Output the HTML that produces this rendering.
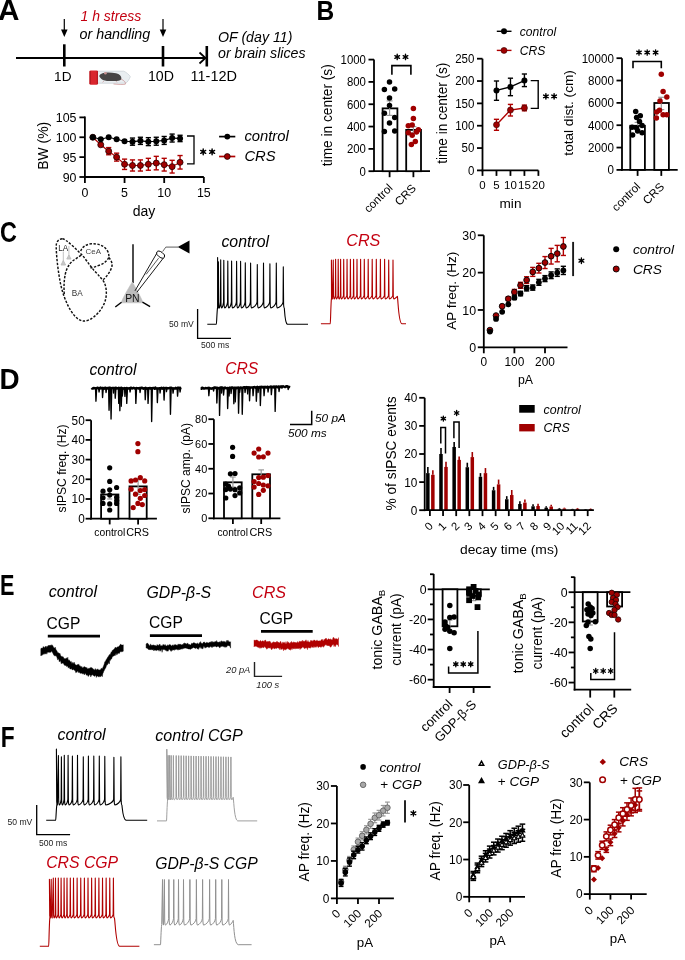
<!DOCTYPE html>
<html><head><meta charset="utf-8"><style>
html,body{margin:0;padding:0;background:#fff;overflow:hidden;}
svg{display:block;font-family:"Liberation Sans", sans-serif;will-change:transform;}
</style></head><body>
<svg width="685" height="960" viewBox="0 0 685 960">
<rect width="685" height="960" fill="#fff"/>
<text x="0" y="0" font-size="29.56" font-weight="bold" transform="translate(-2.09 20) scale(1.005 1)">A</text>
<line x1="16" y1="58" x2="206" y2="58" stroke="#000" stroke-width="1.8"/>
<polyline points="199.5,52.5 205.5,58 199.5,63.5" stroke="#000" stroke-width="1.7" fill="none"/>
<line x1="64.3" y1="44.3" x2="64.3" y2="66.5" stroke="#000" stroke-width="2.6"/>
<line x1="163" y1="46" x2="163" y2="66.5" stroke="#000" stroke-width="2.6"/>
<line x1="206.8" y1="46" x2="206.8" y2="66.5" stroke="#000" stroke-width="2.6"/>
<line x1="64.3" y1="19" x2="64.3" y2="31" stroke="#000" stroke-width="1.2"/>
<polygon points="61,29.5 67.6,29.5 64.3,37" fill="#000"/>
<line x1="163" y1="19" x2="163" y2="31" stroke="#000" stroke-width="1.2"/>
<polygon points="159.7,29.5 166.3,29.5 163,37" fill="#000"/>
<text x="62.8" y="81" font-size="13.6" text-anchor="middle" fill="#000">1D</text>
<text x="160.9" y="81" font-size="14.2" text-anchor="middle" fill="#000">10D</text>
<text x="213.8" y="81" font-size="14.5" text-anchor="middle" fill="#000">11-12D</text>
<text x="80.5" y="21" font-size="14" text-anchor="start" fill="#c40010" font-style="italic">1 h stress</text>
<text x="79.5" y="38.5" font-size="14.3" text-anchor="start" fill="#000" font-style="italic">or handling</text>
<text x="218" y="42" font-size="14.2" text-anchor="start" fill="#000" font-style="italic">OF (day 11)</text>
<text x="218" y="58" font-size="14.2" text-anchor="start" fill="#000" font-style="italic">or brain slices</text>
<g>
<path d="M97,71.2 L123.7,71.2 C126,72 129.5,75 130.3,76.7 C129.5,79 127.5,82 125.9,83.2 L97,83.2 Z" fill="#e9eef1" stroke="#c5cdd2" stroke-width="0.7"/>
<path d="M99.3,75.8 C100,74 102.5,72.8 105,72.7 C108,72.3 112,72.4 116,73.2 C119.5,74 121.5,76 121.4,78.2 C121.3,80.2 119.5,80.9 116.5,80.9 L107,80.9 C104,80.9 101.5,79.5 100.3,77.8 C99.6,77.2 99.2,76.5 99.3,75.8 Z" fill="#474444"/>
<circle cx="105.4" cy="73.3" r="1.3" fill="#c98f8f"/>
<path d="M104,81 L102.5,82.3 M116,81 L117,82.4" stroke="#c98f8f" stroke-width="0.6" fill="none"/>
<path d="M121,79 C124,80.5 126,82.5 125.3,84.2 C123,84.8 118,84.4 113.5,84" fill="none" stroke="#c07a7a" stroke-width="0.6"/>
<rect x="89.4" y="70.5" width="8.6" height="14.2" rx="1.4" fill="#d9262e"/>
<rect x="89.6" y="71" width="1.2" height="13.2" fill="#b01820"/>
<rect x="96.8" y="71" width="1" height="13.2" fill="#b01820"/>
</g>
<line x1="84.9" y1="116.6" x2="84.9" y2="177" stroke="#000" stroke-width="1.8"/>
<line x1="79.4" y1="117.39" x2="84.9" y2="117.39" stroke="#000" stroke-width="1.8"/>
<text x="0" y="0" font-size="12.4" text-anchor="end" fill="#000" transform="translate(76.5 121.92) scale(1 1.030)">105</text>
<line x1="79.4" y1="137.26" x2="84.9" y2="137.26" stroke="#000" stroke-width="1.8"/>
<text x="0" y="0" font-size="12.4" text-anchor="end" fill="#000" transform="translate(76.5 141.79) scale(1 1.030)">100</text>
<line x1="79.4" y1="157.13" x2="84.9" y2="157.13" stroke="#000" stroke-width="1.8"/>
<text x="0" y="0" font-size="12.4" text-anchor="end" fill="#000" transform="translate(76.5 161.66) scale(1 1.030)">95</text>
<line x1="79.4" y1="177" x2="84.9" y2="177" stroke="#000" stroke-width="1.8"/>
<text x="0" y="0" font-size="12.4" text-anchor="end" fill="#000" transform="translate(76.5 181.53) scale(1 1.030)">90</text>
<line x1="84.9" y1="177" x2="203.85" y2="177" stroke="#000" stroke-width="1.8"/>
<line x1="84.9" y1="177" x2="84.9" y2="183" stroke="#000" stroke-width="1.8"/>
<text x="0" y="0" font-size="12.4" text-anchor="middle" fill="#000" transform="translate(84.9 197.1) scale(1 1.040)">0</text>
<line x1="124.55" y1="177" x2="124.55" y2="183" stroke="#000" stroke-width="1.8"/>
<text x="0" y="0" font-size="12.4" text-anchor="middle" fill="#000" transform="translate(124.55 197.1) scale(1 1.040)">5</text>
<line x1="164.2" y1="177" x2="164.2" y2="183" stroke="#000" stroke-width="1.8"/>
<text x="0" y="0" font-size="12.4" text-anchor="middle" fill="#000" transform="translate(164.2 197.1) scale(1 1.040)">10</text>
<line x1="203.85" y1="177" x2="203.85" y2="183" stroke="#000" stroke-width="1.8"/>
<text x="0" y="0" font-size="12.4" text-anchor="middle" fill="#000" transform="translate(203.85 197.1) scale(1 1.040)">15</text>
<text x="144" y="215.5" font-size="14" text-anchor="middle" fill="#000">day</text>
<text x="48.5" y="145.8" font-size="14.3" text-anchor="middle" fill="#000" transform="rotate(-90 48.5 145.8)" textLength="48" lengthAdjust="spacingAndGlyphs">BW (%)</text>
<polyline points="92.83,137.26 100.76,144.81 108.69,151.17 116.62,157.13 124.55,164.28 132.48,165.48 140.41,165.48 148.34,164.28 156.27,163.09 164.2,164.68 172.13,166.67 180.06,162.3" stroke="#b00000" stroke-width="1.2" fill="none"/>
<line x1="108.69" y1="147.59" x2="108.69" y2="154.75" stroke="#b00000" stroke-width="1.4"/>
<line x1="106.09" y1="147.59" x2="111.29" y2="147.59" stroke="#b00000" stroke-width="1.4"/>
<line x1="106.09" y1="154.75" x2="111.29" y2="154.75" stroke="#b00000" stroke-width="1.4"/>
<line x1="116.62" y1="153.16" x2="116.62" y2="161.1" stroke="#b00000" stroke-width="1.4"/>
<line x1="114.02" y1="153.16" x2="119.22" y2="153.16" stroke="#b00000" stroke-width="1.4"/>
<line x1="114.02" y1="161.1" x2="119.22" y2="161.1" stroke="#b00000" stroke-width="1.4"/>
<line x1="124.55" y1="159.12" x2="124.55" y2="169.45" stroke="#b00000" stroke-width="1.4"/>
<line x1="121.95" y1="159.12" x2="127.15" y2="159.12" stroke="#b00000" stroke-width="1.4"/>
<line x1="121.95" y1="169.45" x2="127.15" y2="169.45" stroke="#b00000" stroke-width="1.4"/>
<line x1="132.48" y1="159.91" x2="132.48" y2="171.04" stroke="#b00000" stroke-width="1.4"/>
<line x1="129.88" y1="159.91" x2="135.08" y2="159.91" stroke="#b00000" stroke-width="1.4"/>
<line x1="129.88" y1="171.04" x2="135.08" y2="171.04" stroke="#b00000" stroke-width="1.4"/>
<line x1="140.41" y1="159.91" x2="140.41" y2="171.04" stroke="#b00000" stroke-width="1.4"/>
<line x1="137.81" y1="159.91" x2="143.01" y2="159.91" stroke="#b00000" stroke-width="1.4"/>
<line x1="137.81" y1="171.04" x2="143.01" y2="171.04" stroke="#b00000" stroke-width="1.4"/>
<line x1="148.34" y1="158.32" x2="148.34" y2="170.24" stroke="#b00000" stroke-width="1.4"/>
<line x1="145.74" y1="158.32" x2="150.94" y2="158.32" stroke="#b00000" stroke-width="1.4"/>
<line x1="145.74" y1="170.24" x2="150.94" y2="170.24" stroke="#b00000" stroke-width="1.4"/>
<line x1="156.27" y1="156.34" x2="156.27" y2="169.85" stroke="#b00000" stroke-width="1.4"/>
<line x1="153.67" y1="156.34" x2="158.87" y2="156.34" stroke="#b00000" stroke-width="1.4"/>
<line x1="153.67" y1="169.85" x2="158.87" y2="169.85" stroke="#b00000" stroke-width="1.4"/>
<line x1="164.2" y1="158.32" x2="164.2" y2="171.04" stroke="#b00000" stroke-width="1.4"/>
<line x1="161.6" y1="158.32" x2="166.8" y2="158.32" stroke="#b00000" stroke-width="1.4"/>
<line x1="161.6" y1="171.04" x2="166.8" y2="171.04" stroke="#b00000" stroke-width="1.4"/>
<line x1="172.13" y1="160.31" x2="172.13" y2="173.03" stroke="#b00000" stroke-width="1.4"/>
<line x1="169.53" y1="160.31" x2="174.73" y2="160.31" stroke="#b00000" stroke-width="1.4"/>
<line x1="169.53" y1="173.03" x2="174.73" y2="173.03" stroke="#b00000" stroke-width="1.4"/>
<line x1="180.06" y1="155.54" x2="180.06" y2="169.05" stroke="#b00000" stroke-width="1.4"/>
<line x1="177.46" y1="155.54" x2="182.66" y2="155.54" stroke="#b00000" stroke-width="1.4"/>
<line x1="177.46" y1="169.05" x2="182.66" y2="169.05" stroke="#b00000" stroke-width="1.4"/>
<circle cx="92.83" cy="137.26" r="3" fill="#a00000" stroke="#200" stroke-width="0.8"/>
<circle cx="100.76" cy="144.81" r="3" fill="#a00000" stroke="#200" stroke-width="0.8"/>
<circle cx="108.69" cy="151.17" r="3" fill="#a00000" stroke="#200" stroke-width="0.8"/>
<circle cx="116.62" cy="157.13" r="3" fill="#a00000" stroke="#200" stroke-width="0.8"/>
<circle cx="124.55" cy="164.28" r="3" fill="#a00000" stroke="#200" stroke-width="0.8"/>
<circle cx="132.48" cy="165.48" r="3" fill="#a00000" stroke="#200" stroke-width="0.8"/>
<circle cx="140.41" cy="165.48" r="3" fill="#a00000" stroke="#200" stroke-width="0.8"/>
<circle cx="148.34" cy="164.28" r="3" fill="#a00000" stroke="#200" stroke-width="0.8"/>
<circle cx="156.27" cy="163.09" r="3" fill="#a00000" stroke="#200" stroke-width="0.8"/>
<circle cx="164.2" cy="164.68" r="3" fill="#a00000" stroke="#200" stroke-width="0.8"/>
<circle cx="172.13" cy="166.67" r="3" fill="#a00000" stroke="#200" stroke-width="0.8"/>
<circle cx="180.06" cy="162.3" r="3" fill="#a00000" stroke="#200" stroke-width="0.8"/>
<polyline points="92.83,137.26 100.76,139.25 108.69,137.26 116.62,139.25 124.55,141.23 132.48,141.63 140.41,140.84 148.34,141.63 156.27,141.23 164.2,140.44 172.13,138.05 180.06,138.45" stroke="#000" stroke-width="1.2" fill="none"/>
<line x1="132.48" y1="138.05" x2="132.48" y2="145.21" stroke="#000" stroke-width="1.4"/>
<line x1="129.88" y1="138.05" x2="135.08" y2="138.05" stroke="#000" stroke-width="1.4"/>
<line x1="129.88" y1="145.21" x2="135.08" y2="145.21" stroke="#000" stroke-width="1.4"/>
<line x1="140.41" y1="137.26" x2="140.41" y2="144.41" stroke="#000" stroke-width="1.4"/>
<line x1="137.81" y1="137.26" x2="143.01" y2="137.26" stroke="#000" stroke-width="1.4"/>
<line x1="137.81" y1="144.41" x2="143.01" y2="144.41" stroke="#000" stroke-width="1.4"/>
<line x1="148.34" y1="137.66" x2="148.34" y2="145.61" stroke="#000" stroke-width="1.4"/>
<line x1="145.74" y1="137.66" x2="150.94" y2="137.66" stroke="#000" stroke-width="1.4"/>
<line x1="145.74" y1="145.61" x2="150.94" y2="145.61" stroke="#000" stroke-width="1.4"/>
<line x1="156.27" y1="137.26" x2="156.27" y2="145.21" stroke="#000" stroke-width="1.4"/>
<line x1="153.67" y1="137.26" x2="158.87" y2="137.26" stroke="#000" stroke-width="1.4"/>
<line x1="153.67" y1="145.21" x2="158.87" y2="145.21" stroke="#000" stroke-width="1.4"/>
<line x1="164.2" y1="136.47" x2="164.2" y2="144.41" stroke="#000" stroke-width="1.4"/>
<line x1="161.6" y1="136.47" x2="166.8" y2="136.47" stroke="#000" stroke-width="1.4"/>
<line x1="161.6" y1="144.41" x2="166.8" y2="144.41" stroke="#000" stroke-width="1.4"/>
<line x1="172.13" y1="134.08" x2="172.13" y2="142.03" stroke="#000" stroke-width="1.4"/>
<line x1="169.53" y1="134.08" x2="174.73" y2="134.08" stroke="#000" stroke-width="1.4"/>
<line x1="169.53" y1="142.03" x2="174.73" y2="142.03" stroke="#000" stroke-width="1.4"/>
<line x1="180.06" y1="135.27" x2="180.06" y2="141.63" stroke="#000" stroke-width="1.4"/>
<line x1="177.46" y1="135.27" x2="182.66" y2="135.27" stroke="#000" stroke-width="1.4"/>
<line x1="177.46" y1="141.63" x2="182.66" y2="141.63" stroke="#000" stroke-width="1.4"/>
<circle cx="92.83" cy="137.26" r="3" fill="#000" stroke="none" stroke-width="0.8"/>
<circle cx="100.76" cy="139.25" r="3" fill="#000" stroke="none" stroke-width="0.8"/>
<circle cx="108.69" cy="137.26" r="3" fill="#000" stroke="none" stroke-width="0.8"/>
<circle cx="116.62" cy="139.25" r="3" fill="#000" stroke="none" stroke-width="0.8"/>
<circle cx="124.55" cy="141.23" r="3" fill="#000" stroke="none" stroke-width="0.8"/>
<circle cx="132.48" cy="141.63" r="3" fill="#000" stroke="none" stroke-width="0.8"/>
<circle cx="140.41" cy="140.84" r="3" fill="#000" stroke="none" stroke-width="0.8"/>
<circle cx="148.34" cy="141.63" r="3" fill="#000" stroke="none" stroke-width="0.8"/>
<circle cx="156.27" cy="141.23" r="3" fill="#000" stroke="none" stroke-width="0.8"/>
<circle cx="164.2" cy="140.44" r="3" fill="#000" stroke="none" stroke-width="0.8"/>
<circle cx="172.13" cy="138.05" r="3" fill="#000" stroke="none" stroke-width="0.8"/>
<circle cx="180.06" cy="138.45" r="3" fill="#000" stroke="none" stroke-width="0.8"/>
<polyline points="187,136 194,136 194,163.8 187,163.8" stroke="#000" stroke-width="1.3" fill="none"/>
<path d="M203.2,149.05 L203.2,154.75 M200.73,150.47 L205.67,153.33 M200.73,153.33 L205.67,150.47" stroke="#000" stroke-width="1.45" stroke-linecap="round" fill="none"/>
<circle cx="203.2" cy="151.9" r="1.28" fill="#000" stroke="none" stroke-width="0.8"/>
<path d="M212.1,149.05 L212.1,154.75 M209.63,150.47 L214.57,153.33 M209.63,153.33 L214.57,150.47" stroke="#000" stroke-width="1.45" stroke-linecap="round" fill="none"/>
<circle cx="212.1" cy="151.9" r="1.28" fill="#000" stroke="none" stroke-width="0.8"/>
<line x1="219.1" y1="136.6" x2="235.3" y2="136.6" stroke="#000" stroke-width="1.7"/>
<circle cx="227.3" cy="136.6" r="2.9" fill="#000" stroke="none" stroke-width="0.8"/>
<text x="244.4" y="141.4" font-size="14.8" text-anchor="start" fill="#000" font-style="italic">control</text>
<line x1="219.1" y1="156.5" x2="235.3" y2="156.5" stroke="#b00000" stroke-width="1.7"/>
<circle cx="227.3" cy="156.5" r="2.9" fill="#a00000" stroke="#200" stroke-width="0.8"/>
<text x="244.4" y="161.4" font-size="14.8" text-anchor="start" fill="#000" font-style="italic">CRS</text>
<text x="0" y="0" font-size="28.53" font-weight="bold" transform="translate(316.39 19.99) scale(0.859 1)">B</text>
<line x1="374" y1="59.6" x2="374" y2="172.1" stroke="#000" stroke-width="1.8"/>
<line x1="368.5" y1="59.6" x2="374" y2="59.6" stroke="#000" stroke-width="1.8"/>
<text x="0" y="0" font-size="11.4" text-anchor="end" fill="#000" transform="translate(365.9 63.99) scale(1 1.085)">1000</text>
<line x1="368.5" y1="81.92" x2="374" y2="81.92" stroke="#000" stroke-width="1.8"/>
<text x="0" y="0" font-size="11.4" text-anchor="end" fill="#000" transform="translate(365.9 86.31) scale(1 1.085)">800</text>
<line x1="368.5" y1="104.24" x2="374" y2="104.24" stroke="#000" stroke-width="1.8"/>
<text x="0" y="0" font-size="11.4" text-anchor="end" fill="#000" transform="translate(365.9 108.63) scale(1 1.085)">600</text>
<line x1="368.5" y1="126.56" x2="374" y2="126.56" stroke="#000" stroke-width="1.8"/>
<text x="0" y="0" font-size="11.4" text-anchor="end" fill="#000" transform="translate(365.9 130.95) scale(1 1.085)">400</text>
<line x1="368.5" y1="148.88" x2="374" y2="148.88" stroke="#000" stroke-width="1.8"/>
<text x="0" y="0" font-size="11.4" text-anchor="end" fill="#000" transform="translate(365.9 153.27) scale(1 1.085)">200</text>
<line x1="368.5" y1="171.2" x2="374" y2="171.2" stroke="#000" stroke-width="1.8"/>
<text x="0" y="0" font-size="11.4" text-anchor="end" fill="#000" transform="translate(365.9 175.59) scale(1 1.085)">0</text>
<line x1="373.1" y1="171.2" x2="430" y2="171.2" stroke="#000" stroke-width="1.8"/>
<line x1="389.6" y1="171.2" x2="389.6" y2="177.2" stroke="#000" stroke-width="1.8"/>
<line x1="413.4" y1="171.2" x2="413.4" y2="177.2" stroke="#000" stroke-width="1.8"/>
<rect x="382.6" y="108.37" width="14.8" height="62.83" fill="#fff" stroke="#000" stroke-width="1.8"/>
<rect x="406.2" y="129.91" width="14.8" height="41.29" fill="#fff" stroke="#000" stroke-width="1.8"/>
<line x1="389.6" y1="100.89" x2="389.6" y2="115.4" stroke="#999" stroke-width="1.2"/>
<line x1="386.6" y1="100.89" x2="392.6" y2="100.89" stroke="#999" stroke-width="1.2"/>
<line x1="386.6" y1="115.4" x2="392.6" y2="115.4" stroke="#999" stroke-width="1.2"/>
<line x1="413.4" y1="126.56" x2="413.4" y2="132.7" stroke="#999" stroke-width="1.2"/>
<line x1="410.4" y1="126.56" x2="416.4" y2="126.56" stroke="#999" stroke-width="1.2"/>
<line x1="410.4" y1="132.7" x2="416.4" y2="132.7" stroke="#999" stroke-width="1.2"/>
<circle cx="389.5" cy="82" r="2.75" fill="#000" stroke="none" stroke-width="0.8"/>
<circle cx="384.4" cy="89.4" r="2.75" fill="#000" stroke="none" stroke-width="0.8"/>
<circle cx="394.7" cy="89" r="2.75" fill="#000" stroke="none" stroke-width="0.8"/>
<circle cx="389.5" cy="98.1" r="2.75" fill="#000" stroke="none" stroke-width="0.8"/>
<circle cx="389.5" cy="105.5" r="2.75" fill="#000" stroke="none" stroke-width="0.8"/>
<circle cx="384.4" cy="113.3" r="2.75" fill="#000" stroke="none" stroke-width="0.8"/>
<circle cx="394.7" cy="117.5" r="2.75" fill="#000" stroke="none" stroke-width="0.8"/>
<circle cx="389.5" cy="123.1" r="2.75" fill="#000" stroke="none" stroke-width="0.8"/>
<circle cx="384.4" cy="131.6" r="2.75" fill="#000" stroke="none" stroke-width="0.8"/>
<circle cx="394.7" cy="130.9" r="2.75" fill="#000" stroke="none" stroke-width="0.8"/>
<circle cx="413.4" cy="108.6" r="2.75" fill="#a00000" stroke="none" stroke-width="0.8"/>
<circle cx="413.4" cy="118.4" r="2.75" fill="#a00000" stroke="none" stroke-width="0.8"/>
<circle cx="408.3" cy="125.8" r="2.75" fill="#a00000" stroke="none" stroke-width="0.8"/>
<circle cx="412.2" cy="125" r="2.75" fill="#a00000" stroke="none" stroke-width="0.8"/>
<circle cx="418.4" cy="129.7" r="2.75" fill="#a00000" stroke="none" stroke-width="0.8"/>
<circle cx="408.3" cy="132.8" r="2.75" fill="#a00000" stroke="none" stroke-width="0.8"/>
<circle cx="412.2" cy="135.2" r="2.75" fill="#a00000" stroke="none" stroke-width="0.8"/>
<circle cx="415.3" cy="141.4" r="2.75" fill="#a00000" stroke="none" stroke-width="0.8"/>
<circle cx="411.4" cy="144.5" r="2.75" fill="#a00000" stroke="none" stroke-width="0.8"/>
<circle cx="416.5" cy="132" r="2.75" fill="#a00000" stroke="none" stroke-width="0.8"/>
<polyline points="391.9,74.7 391.9,65.6 410.9,65.6 410.9,74.7" stroke="#000" stroke-width="1.6" fill="none"/>
<path d="M397.2,54.25 L397.2,59.65 M394.86,55.6 L399.54,58.3 M394.86,58.3 L399.54,55.6" stroke="#000" stroke-width="1.35" stroke-linecap="round" fill="none"/>
<circle cx="397.2" cy="56.95" r="1.22" fill="#000" stroke="none" stroke-width="0.8"/>
<path d="M405.5,54.25 L405.5,59.65 M403.16,55.6 L407.84,58.3 M403.16,58.3 L407.84,55.6" stroke="#000" stroke-width="1.35" stroke-linecap="round" fill="none"/>
<circle cx="405.5" cy="56.95" r="1.22" fill="#000" stroke="none" stroke-width="0.8"/>
<text x="331.7" y="115.2" font-size="14.2" text-anchor="middle" fill="#000" transform="rotate(-90 331.7 115.2)" textLength="102" lengthAdjust="spacingAndGlyphs">time in center (s)</text>
<text x="393.3" y="188.7" font-size="11.6" text-anchor="end" fill="#000" transform="rotate(-45 393.3 188.7)">control</text>
<text x="416.8" y="189" font-size="11.6" text-anchor="end" fill="#000" transform="rotate(-45 416.8 189)">CRS</text>
<line x1="482.5" y1="58.7" x2="482.5" y2="171.3" stroke="#000" stroke-width="1.8"/>
<line x1="477" y1="58.7" x2="482.5" y2="58.7" stroke="#000" stroke-width="1.8"/>
<text x="0" y="0" font-size="11.5" text-anchor="end" fill="#000" transform="translate(474.4 63.11) scale(1 1.080)">250</text>
<line x1="477" y1="81.04" x2="482.5" y2="81.04" stroke="#000" stroke-width="1.8"/>
<text x="0" y="0" font-size="11.5" text-anchor="end" fill="#000" transform="translate(474.4 85.45) scale(1 1.080)">200</text>
<line x1="477" y1="103.38" x2="482.5" y2="103.38" stroke="#000" stroke-width="1.8"/>
<text x="0" y="0" font-size="11.5" text-anchor="end" fill="#000" transform="translate(474.4 107.79) scale(1 1.080)">150</text>
<line x1="477" y1="125.72" x2="482.5" y2="125.72" stroke="#000" stroke-width="1.8"/>
<text x="0" y="0" font-size="11.5" text-anchor="end" fill="#000" transform="translate(474.4 130.13) scale(1 1.080)">100</text>
<line x1="477" y1="148.06" x2="482.5" y2="148.06" stroke="#000" stroke-width="1.8"/>
<text x="0" y="0" font-size="11.5" text-anchor="end" fill="#000" transform="translate(474.4 152.47) scale(1 1.080)">50</text>
<line x1="477" y1="170.4" x2="482.5" y2="170.4" stroke="#000" stroke-width="1.8"/>
<text x="0" y="0" font-size="11.5" text-anchor="end" fill="#000" transform="translate(474.4 174.81) scale(1 1.080)">0</text>
<line x1="481.6" y1="170.4" x2="538.4" y2="170.4" stroke="#000" stroke-width="1.8"/>
<line x1="482.5" y1="170.4" x2="482.5" y2="175.9" stroke="#000" stroke-width="1.8"/>
<text x="0" y="0" font-size="11.5" text-anchor="middle" fill="#000" transform="translate(482.5 188.6) scale(1 1.030)">0</text>
<line x1="496.48" y1="170.4" x2="496.48" y2="175.9" stroke="#000" stroke-width="1.8"/>
<text x="0" y="0" font-size="11.5" text-anchor="middle" fill="#000" transform="translate(496.48 188.6) scale(1 1.030)">5</text>
<line x1="510.45" y1="170.4" x2="510.45" y2="175.9" stroke="#000" stroke-width="1.8"/>
<text x="0" y="0" font-size="11.5" text-anchor="middle" fill="#000" transform="translate(510.45 188.6) scale(1 1.030)">10</text>
<line x1="524.42" y1="170.4" x2="524.42" y2="175.9" stroke="#000" stroke-width="1.8"/>
<text x="0" y="0" font-size="11.5" text-anchor="middle" fill="#000" transform="translate(524.42 188.6) scale(1 1.030)">15</text>
<line x1="538.4" y1="170.4" x2="538.4" y2="175.9" stroke="#000" stroke-width="1.8"/>
<text x="0" y="0" font-size="11.5" text-anchor="middle" fill="#000" transform="translate(538.4 188.6) scale(1 1.030)">20</text>
<text x="510.5" y="208" font-size="13.6" text-anchor="middle" fill="#000">min</text>
<polyline points="496.48,124.8 510.45,110.1 524.42,108" stroke="#b00000" stroke-width="1.4" fill="none"/>
<line x1="496.48" y1="119.3" x2="496.48" y2="130.3" stroke="#b00000" stroke-width="1.4"/>
<line x1="493.88" y1="119.3" x2="499.08" y2="119.3" stroke="#b00000" stroke-width="1.4"/>
<line x1="493.88" y1="130.3" x2="499.08" y2="130.3" stroke="#b00000" stroke-width="1.4"/>
<circle cx="496.48" cy="124.8" r="3" fill="#a00000" stroke="#300" stroke-width="0.6"/>
<line x1="510.45" y1="104.4" x2="510.45" y2="116" stroke="#b00000" stroke-width="1.4"/>
<line x1="507.85" y1="104.4" x2="513.05" y2="104.4" stroke="#b00000" stroke-width="1.4"/>
<line x1="507.85" y1="116" x2="513.05" y2="116" stroke="#b00000" stroke-width="1.4"/>
<circle cx="510.45" cy="110.1" r="3" fill="#a00000" stroke="#300" stroke-width="0.6"/>
<line x1="524.42" y1="105.1" x2="524.42" y2="110.8" stroke="#b00000" stroke-width="1.4"/>
<line x1="521.82" y1="105.1" x2="527.02" y2="105.1" stroke="#b00000" stroke-width="1.4"/>
<line x1="521.82" y1="110.8" x2="527.02" y2="110.8" stroke="#b00000" stroke-width="1.4"/>
<circle cx="524.42" cy="108" r="3" fill="#a00000" stroke="#300" stroke-width="0.6"/>
<polyline points="496.48,90.4 510.45,86.9 524.42,80.6" stroke="#000" stroke-width="1.4" fill="none"/>
<line x1="496.48" y1="81" x2="496.48" y2="100.3" stroke="#000" stroke-width="1.4"/>
<line x1="493.88" y1="81" x2="499.08" y2="81" stroke="#000" stroke-width="1.4"/>
<line x1="493.88" y1="100.3" x2="499.08" y2="100.3" stroke="#000" stroke-width="1.4"/>
<circle cx="496.48" cy="90.4" r="3" fill="#000" stroke="none" stroke-width="0.8"/>
<line x1="510.45" y1="78.2" x2="510.45" y2="95.7" stroke="#000" stroke-width="1.4"/>
<line x1="507.85" y1="78.2" x2="513.05" y2="78.2" stroke="#000" stroke-width="1.4"/>
<line x1="507.85" y1="95.7" x2="513.05" y2="95.7" stroke="#000" stroke-width="1.4"/>
<circle cx="510.45" cy="86.9" r="3" fill="#000" stroke="none" stroke-width="0.8"/>
<line x1="524.42" y1="74" x2="524.42" y2="86.6" stroke="#000" stroke-width="1.4"/>
<line x1="521.82" y1="74" x2="527.02" y2="74" stroke="#000" stroke-width="1.4"/>
<line x1="521.82" y1="86.6" x2="527.02" y2="86.6" stroke="#000" stroke-width="1.4"/>
<circle cx="524.42" cy="80.6" r="3" fill="#000" stroke="none" stroke-width="0.8"/>
<polyline points="530.7,80.6 538.2,80.6 538.2,108.4 530.7,108.4" stroke="#000" stroke-width="1.4" fill="none"/>
<path d="M545.9,93.75 L545.9,99.05 M543.61,95.08 L548.19,97.73 M543.61,97.73 L548.19,95.08" stroke="#000" stroke-width="1.45" stroke-linecap="round" fill="none"/>
<circle cx="545.9" cy="96.4" r="1.19" fill="#000" stroke="none" stroke-width="0.8"/>
<path d="M554.1,93.75 L554.1,99.05 M551.81,95.08 L556.39,97.73 M551.81,97.73 L556.39,95.08" stroke="#000" stroke-width="1.45" stroke-linecap="round" fill="none"/>
<circle cx="554.1" cy="96.4" r="1.19" fill="#000" stroke="none" stroke-width="0.8"/>
<text x="446.6" y="113.2" font-size="14.2" text-anchor="middle" fill="#000" transform="rotate(-90 446.6 113.2)" textLength="101" lengthAdjust="spacingAndGlyphs">time in center (s)</text>
<line x1="496.8" y1="31.3" x2="511.5" y2="31.3" stroke="#000" stroke-width="1.4"/>
<circle cx="504" cy="31.3" r="3" fill="#000" stroke="none" stroke-width="0.8"/>
<text x="519.8" y="35.6" font-size="12.1" text-anchor="start" fill="#000" font-style="italic">control</text>
<line x1="496.8" y1="50.4" x2="511.5" y2="50.4" stroke="#b00000" stroke-width="1.4"/>
<circle cx="504" cy="50.4" r="3" fill="#a00000" stroke="#300" stroke-width="0.6"/>
<text x="519.8" y="54.7" font-size="12.1" text-anchor="start" fill="#000" font-style="italic">CRS</text>
<line x1="622" y1="58.2" x2="622" y2="170.8" stroke="#000" stroke-width="1.8"/>
<line x1="616.5" y1="58.2" x2="622" y2="58.2" stroke="#000" stroke-width="1.8"/>
<text x="0" y="0" font-size="11.6" text-anchor="end" fill="#000" transform="translate(613.9 62.64) scale(1 1.077)">10000</text>
<line x1="616.5" y1="80.54" x2="622" y2="80.54" stroke="#000" stroke-width="1.8"/>
<text x="0" y="0" font-size="11.6" text-anchor="end" fill="#000" transform="translate(613.9 84.98) scale(1 1.077)">8000</text>
<line x1="616.5" y1="102.88" x2="622" y2="102.88" stroke="#000" stroke-width="1.8"/>
<text x="0" y="0" font-size="11.6" text-anchor="end" fill="#000" transform="translate(613.9 107.32) scale(1 1.077)">6000</text>
<line x1="616.5" y1="125.22" x2="622" y2="125.22" stroke="#000" stroke-width="1.8"/>
<text x="0" y="0" font-size="11.6" text-anchor="end" fill="#000" transform="translate(613.9 129.66) scale(1 1.077)">4000</text>
<line x1="616.5" y1="147.56" x2="622" y2="147.56" stroke="#000" stroke-width="1.8"/>
<text x="0" y="0" font-size="11.6" text-anchor="end" fill="#000" transform="translate(613.9 152) scale(1 1.077)">2000</text>
<line x1="616.5" y1="169.9" x2="622" y2="169.9" stroke="#000" stroke-width="1.8"/>
<text x="0" y="0" font-size="11.6" text-anchor="end" fill="#000" transform="translate(613.9 174.34) scale(1 1.077)">0</text>
<line x1="621.1" y1="169.9" x2="677.7" y2="169.9" stroke="#000" stroke-width="1.8"/>
<line x1="637.6" y1="169.9" x2="637.6" y2="175.9" stroke="#000" stroke-width="1.8"/>
<line x1="661.3" y1="169.9" x2="661.3" y2="175.9" stroke="#000" stroke-width="1.8"/>
<rect x="630.3" y="125.78" width="14.6" height="44.12" fill="#fff" stroke="#000" stroke-width="1.8"/>
<rect x="654.3" y="102.99" width="14.6" height="66.91" fill="#fff" stroke="#000" stroke-width="1.8"/>
<line x1="637.6" y1="122.43" x2="637.6" y2="129.13" stroke="#999" stroke-width="1.2"/>
<line x1="634.6" y1="122.43" x2="640.6" y2="122.43" stroke="#999" stroke-width="1.2"/>
<line x1="634.6" y1="129.13" x2="640.6" y2="129.13" stroke="#999" stroke-width="1.2"/>
<line x1="661.3" y1="97.3" x2="661.3" y2="109.58" stroke="#999" stroke-width="1.2"/>
<line x1="658.3" y1="97.3" x2="664.3" y2="97.3" stroke="#999" stroke-width="1.2"/>
<line x1="658.3" y1="109.58" x2="664.3" y2="109.58" stroke="#999" stroke-width="1.2"/>
<circle cx="635.7" cy="111.5" r="2.75" fill="#000" stroke="none" stroke-width="0.8"/>
<circle cx="636.6" cy="117.6" r="2.75" fill="#000" stroke="none" stroke-width="0.8"/>
<circle cx="640.3" cy="115.7" r="2.75" fill="#000" stroke="none" stroke-width="0.8"/>
<circle cx="632.1" cy="127.2" r="2.75" fill="#000" stroke="none" stroke-width="0.8"/>
<circle cx="636.6" cy="128" r="2.75" fill="#000" stroke="none" stroke-width="0.8"/>
<circle cx="642.1" cy="125.4" r="2.75" fill="#000" stroke="none" stroke-width="0.8"/>
<circle cx="632.6" cy="134.9" r="2.75" fill="#000" stroke="none" stroke-width="0.8"/>
<circle cx="642.1" cy="132.7" r="2.75" fill="#000" stroke="none" stroke-width="0.8"/>
<circle cx="637.6" cy="131" r="2.75" fill="#000" stroke="none" stroke-width="0.8"/>
<circle cx="639.5" cy="121.5" r="2.75" fill="#000" stroke="none" stroke-width="0.8"/>
<circle cx="661.3" cy="74.3" r="2.75" fill="#a00000" stroke="none" stroke-width="0.8"/>
<circle cx="663.1" cy="91.5" r="2.75" fill="#a00000" stroke="none" stroke-width="0.8"/>
<circle cx="666.8" cy="96.9" r="2.75" fill="#a00000" stroke="none" stroke-width="0.8"/>
<circle cx="660" cy="101.1" r="2.75" fill="#a00000" stroke="none" stroke-width="0.8"/>
<circle cx="659.5" cy="110.3" r="2.75" fill="#a00000" stroke="none" stroke-width="0.8"/>
<circle cx="656.7" cy="112.1" r="2.75" fill="#a00000" stroke="none" stroke-width="0.8"/>
<circle cx="656.4" cy="118.1" r="2.75" fill="#a00000" stroke="none" stroke-width="0.8"/>
<circle cx="663.1" cy="114.8" r="2.75" fill="#a00000" stroke="none" stroke-width="0.8"/>
<circle cx="666.8" cy="114.8" r="2.75" fill="#a00000" stroke="none" stroke-width="0.8"/>
<polyline points="633,68.3 633,61.5 661.3,61.5 661.3,68.3" stroke="#000" stroke-width="1.6" fill="none"/>
<path d="M639,49.85 L639,55.15 M636.71,51.17 L641.29,53.83 M636.71,53.83 L641.29,51.17" stroke="#000" stroke-width="1.35" stroke-linecap="round" fill="none"/>
<circle cx="639" cy="52.5" r="1.19" fill="#000" stroke="none" stroke-width="0.8"/>
<path d="M647.2,49.85 L647.2,55.15 M644.91,51.17 L649.49,53.83 M644.91,53.83 L649.49,51.17" stroke="#000" stroke-width="1.35" stroke-linecap="round" fill="none"/>
<circle cx="647.2" cy="52.5" r="1.19" fill="#000" stroke="none" stroke-width="0.8"/>
<path d="M655.6,49.85 L655.6,55.15 M653.31,51.17 L657.89,53.83 M653.31,53.83 L657.89,51.17" stroke="#000" stroke-width="1.35" stroke-linecap="round" fill="none"/>
<circle cx="655.6" cy="52.5" r="1.19" fill="#000" stroke="none" stroke-width="0.8"/>
<text x="573" y="112.9" font-size="13.6" text-anchor="middle" fill="#000" transform="rotate(-90 573 112.9)" textLength="85.5" lengthAdjust="spacingAndGlyphs">total dist. (cm)</text>
<text x="641.2" y="187.3" font-size="11.6" text-anchor="end" fill="#000" transform="rotate(-45 641.2 187.3)">control</text>
<text x="664.9" y="187.6" font-size="11.6" text-anchor="end" fill="#000" transform="rotate(-45 664.9 187.6)">CRS</text>
<text x="0" y="0" font-size="29.43" font-weight="bold" transform="translate(0.06 241.55) scale(0.796 1)">C</text>
<path d="M62.3,238.7 C58,239.5 56,242 56.2,247 C56.5,258 58,270 60,281 C62,292 66,303 71,311 C75,317 79,321 84,321 C90,321 98,315 103,306 C107,299 107.5,289 104,282 C100,276 95,272 92,268 C88,263 85,258 82,255 C77,250 71,244 66,240.5 C64.5,239.3 63.5,238.7 62.3,238.7" fill="none" stroke="#111" stroke-width="1.45" stroke-dasharray="2.4,1.5"/>
<path d="M64.3,294 C63.5,285 64.5,275 66.5,270 C68.5,265 71,262 74,260 C77,258 80,256 82,254.5" fill="none" stroke="#111" stroke-width="1.45" stroke-dasharray="2.4,1.5"/>
<path d="M80.7,251 C82,247 86,244.5 91,243.8 C98,243.3 104,245.5 107.2,250.4 C109,253 109,256 108.8,257.6 C107,261 104,263.5 100,265 C96,266.5 93,267.5 90.5,268" fill="none" stroke="#111" stroke-width="1.45" stroke-dasharray="2.4,1.5"/>
<path d="M108.8,257.6 C111,260 112.5,263 112,266 C111,271 107,276 103.1,280" fill="none" stroke="#111" stroke-width="1.45" stroke-dasharray="2.4,1.5"/>
<g stroke="#bbb" stroke-width="0.9" fill="#c8c8c8">
<line x1="63.3" y1="251.5" x2="63.3" y2="262"/><path d="M61,265 L63.3,260.5 L65.6,265 Z"/>
<line x1="68.9" y1="246" x2="68.9" y2="256"/><path d="M66.8,259 L68.9,255 L71,259 Z"/>
</g>
<text x="58.3" y="251.3" font-size="8.2" text-anchor="start" fill="#222">LA</text>
<text x="85.6" y="253.5" font-size="7.9" text-anchor="start" fill="#444">CeA</text>
<text x="71.7" y="296" font-size="8.2" text-anchor="start" fill="#333">BA</text>
<line x1="133" y1="244.2" x2="133" y2="283" stroke="#000" stroke-width="1.4"/>
<path d="M132.3,282 C131,284 122.5,298 121.2,302.8 L143,302.8 C141.5,298 133.5,284 132.3,282 Z" fill="#bdbdbd" stroke="#bdbdbd" stroke-width="0.6"/>
<line x1="121.5" y1="302.2" x2="115.3" y2="307" stroke="#000" stroke-width="1.4"/>
<line x1="142.5" y1="302.2" x2="150.1" y2="306.6" stroke="#000" stroke-width="1.4"/>
<text x="132.4" y="301.5" font-size="10.4" text-anchor="middle" fill="#111">PN</text>
<line x1="135" y1="290.8" x2="156.8" y2="253.2" stroke="#000" stroke-width="0.9"/>
<line x1="136.9" y1="292.2" x2="164" y2="257.2" stroke="#000" stroke-width="0.9"/>
<line x1="146.1" y1="274.4" x2="158.6" y2="258.2" stroke="#333" stroke-width="0.8"/>
<ellipse cx="160.6" cy="254.6" rx="4.6" ry="2.6" transform="rotate(35 160.6 254.6)" fill="#fff" stroke="#000" stroke-width="0.9"/>
<line x1="162.6" y1="251.6" x2="165.8" y2="247.1" stroke="#666" stroke-width="1"/>
<line x1="165.8" y1="247.1" x2="178" y2="247.1" stroke="#777" stroke-width="1.2"/>
<path d="M177.7,247.1 L189.5,240.5 L189.5,253.6 Z" fill="#000"/>
<path d="M207.3,324.2 L216.4,324.2 C216.6,324.2 217,310.2 217.6,307.2 L217.6,257.6 L217.9,304.2 Q218.1,308 218.6,308 L218.4,261.7 L218.7,304.2 Q218.9,308 219.4,308 C219.92,307.44 220.1,304.7 220.45,302.2 L220.7,259.9 L221,304.2 Q221.2,308 221.7,308 C222.54,307.44 223.2,304.7 223.55,302.2 L223.8,260.3 L224.1,304.2 Q224.3,308 224.8,308 C226,307.44 227.2,304.7 227.55,302.2 L227.8,261.1 L228.1,304.2 Q228.3,308 228.8,308 C229.92,307.44 231,304.7 231.35,302.2 L231.6,261.1 L231.9,304.2 Q232.1,308 232.6,308 C234.2,307.44 236,304.7 236.35,302.2 L236.6,261.4 L236.9,304.2 Q237.1,308 237.6,308 C238.8,307.44 240,304.7 240.35,302.2 L240.6,261.4 L240.9,304.2 Q241.1,308 241.6,308 C243.08,307.44 244.7,304.7 245.05,302.2 L245.3,262.8 L245.6,304.2 Q245.8,308 246.3,308 C248.02,307.44 250,304.7 250.35,302.2 L250.6,263.1 L250.9,304.2 Q251.1,308 251.6,308 C253.88,307.44 256.7,304.7 257.05,302.2 L257.3,264.6 L257.6,304.2 Q257.8,308 258.3,308 C260.38,307.44 262.9,304.7 263.25,302.2 L263.5,263.1 L263.8,304.2 Q264,308 264.5,308 C266.66,307.44 269.3,304.7 269.65,302.2 L269.9,263.8 L270.2,304.2 Q270.4,308 270.9,308 C273.06,307.44 275.7,304.7 276.05,302.2 L276.3,263.1 L276.6,304.2 Q276.8,308 277.3,308 C279.7,307.44 282.7,304.7 283.05,302.2 L283.3,266.9 L283.6,304.2 Q283.8,308 284.3,308 C284.6,311.2 285,323.2 287.3,324.2 L308,324.2" fill="none" stroke="#000" stroke-width="1.1" stroke-linejoin="round"/>
<path d="M320.9,323.8 L330.3,323.8 C330.5,323.8 330.9,301.2 331.5,298.2 L331.4,260 L331.7,296.7 Q331.9,299 332.4,299 L333.25,260 L333.55,296.7 Q333.75,299 334.25,299 C334.79,298.44 335,296.95 335.35,295.7 L335.6,259.3 L335.9,296.7 Q336.1,299 336.6,299 C337.24,298.44 337.6,296.95 337.95,295.7 L338.2,259.3 L338.5,296.7 Q338.7,299 339.2,299 C339.76,298.44 340,296.95 340.35,295.7 L340.6,259.3 L340.9,296.7 Q341.1,299 341.6,299 C342.44,298.44 343.1,296.95 343.45,295.7 L343.7,259.3 L344,296.7 Q344.2,299 344.7,299 C345.64,298.44 346.45,296.95 346.8,295.7 L347.05,259.3 L347.35,296.7 Q347.55,299 348.05,299 C348.99,298.44 349.8,296.95 350.15,295.7 L350.4,259.3 L350.7,296.7 Q350.9,299 351.4,299 C352.28,298.44 353,296.95 353.35,295.7 L353.6,259.3 L353.9,296.7 Q354.1,299 354.6,299 C355.56,298.44 356.4,296.95 356.75,295.7 L357,259.3 L357.3,296.7 Q357.5,299 358,299 C359.04,298.44 360,296.95 360.35,295.7 L360.6,259.3 L360.9,296.7 Q361.1,299 361.6,299 C362.68,298.44 363.7,296.95 364.05,295.7 L364.3,259.3 L364.6,296.7 Q364.8,299 365.3,299 C366.46,298.44 367.6,296.95 367.95,295.7 L368.2,259.3 L368.5,296.7 Q368.7,299 369.2,299 C370.4,298.44 371.6,296.95 371.95,295.7 L372.2,259.3 L372.5,296.7 Q372.7,299 373.2,299 C374.44,298.44 375.7,296.95 376.05,295.7 L376.3,259.3 L376.6,296.7 Q376.8,299 377.3,299 C378.54,298.44 379.8,296.95 380.15,295.7 L380.4,259.3 L380.7,296.7 Q380.9,299 381.4,299 C382.68,298.44 384,296.95 384.35,295.7 L384.6,259.3 L384.9,296.7 Q385.1,299 385.6,299 C386.84,298.44 388.1,296.95 388.45,295.7 L388.7,260 L389,296.7 Q389.2,299 389.7,299 C391.02,298.44 392.4,296.95 392.75,295.7 L393,260 L393.3,296.7 Q393.5,299 394,299 C395.36,298.44 396.9,296.95 397.4,296.45 C398.2,302.2 398.6,322.8 401.9,323.8 L406,323.8" fill="none" stroke="#b00000" stroke-width="1.1" stroke-linejoin="round"/>
<polyline points="197.6,309.1 197.6,338.3 231,338.3" stroke="#000" stroke-width="1.3" fill="none"/>
<text x="169" y="327" font-size="8.6" text-anchor="start" fill="#222">50 mV</text>
<text x="201" y="348.2" font-size="8.6" text-anchor="start" fill="#222">500 ms</text>
<text x="221.4" y="246.7" font-size="15.9" text-anchor="start" fill="#000" font-style="italic">control</text>
<text x="346.2" y="245.9" font-size="16.2" text-anchor="start" fill="#c40010" font-style="italic">CRS</text>
<line x1="483.8" y1="235.3" x2="483.8" y2="348.2" stroke="#000" stroke-width="1.8"/>
<line x1="477.8" y1="235.3" x2="483.8" y2="235.3" stroke="#000" stroke-width="1.8"/>
<text x="0" y="0" font-size="12.4" text-anchor="end" fill="#000" transform="translate(476.1 239.83) scale(1 1.030)">30</text>
<line x1="477.8" y1="272.63" x2="483.8" y2="272.63" stroke="#000" stroke-width="1.8"/>
<text x="0" y="0" font-size="12.4" text-anchor="end" fill="#000" transform="translate(476.1 277.17) scale(1 1.030)">20</text>
<line x1="477.8" y1="309.97" x2="483.8" y2="309.97" stroke="#000" stroke-width="1.8"/>
<text x="0" y="0" font-size="12.4" text-anchor="end" fill="#000" transform="translate(476.1 314.5) scale(1 1.030)">10</text>
<line x1="477.8" y1="347.3" x2="483.8" y2="347.3" stroke="#000" stroke-width="1.8"/>
<text x="0" y="0" font-size="12.4" text-anchor="end" fill="#000" transform="translate(476.1 351.83) scale(1 1.030)">0</text>
<line x1="482.9" y1="347.3" x2="567.5" y2="347.3" stroke="#000" stroke-width="1.8"/>
<line x1="483.8" y1="347.3" x2="483.8" y2="353.3" stroke="#000" stroke-width="1.8"/>
<text x="0" y="0" font-size="11.9" text-anchor="middle" fill="#000" transform="translate(483.8 366.3) scale(1 1.030)">0</text>
<line x1="514.4" y1="347.3" x2="514.4" y2="353.3" stroke="#000" stroke-width="1.8"/>
<text x="0" y="0" font-size="11.9" text-anchor="middle" fill="#000" transform="translate(514.4 366.3) scale(1 1.030)">100</text>
<line x1="545" y1="347.3" x2="545" y2="353.3" stroke="#000" stroke-width="1.8"/>
<text x="0" y="0" font-size="11.9" text-anchor="middle" fill="#000" transform="translate(545 366.3) scale(1 1.030)">200</text>
<text x="525.5" y="383.7" font-size="12.3" text-anchor="middle" fill="#000">pA</text>
<text x="456.2" y="290.7" font-size="13.5" text-anchor="middle" fill="#000" transform="rotate(-90 456.2 290.7)" textLength="78" lengthAdjust="spacingAndGlyphs">AP freq. (Hz)</text>
<line x1="508.28" y1="296.9" x2="508.28" y2="300.63" stroke="#b00000" stroke-width="1.4"/>
<line x1="505.68" y1="296.9" x2="510.88" y2="296.9" stroke="#b00000" stroke-width="1.4"/>
<line x1="505.68" y1="300.63" x2="510.88" y2="300.63" stroke="#b00000" stroke-width="1.4"/>
<line x1="514.4" y1="289.43" x2="514.4" y2="294.66" stroke="#b00000" stroke-width="1.4"/>
<line x1="511.8" y1="289.43" x2="517" y2="289.43" stroke="#b00000" stroke-width="1.4"/>
<line x1="511.8" y1="294.66" x2="517" y2="294.66" stroke="#b00000" stroke-width="1.4"/>
<line x1="520.52" y1="282.34" x2="520.52" y2="288.31" stroke="#b00000" stroke-width="1.4"/>
<line x1="517.92" y1="282.34" x2="523.12" y2="282.34" stroke="#b00000" stroke-width="1.4"/>
<line x1="517.92" y1="288.31" x2="523.12" y2="288.31" stroke="#b00000" stroke-width="1.4"/>
<line x1="526.64" y1="276.74" x2="526.64" y2="283.46" stroke="#b00000" stroke-width="1.4"/>
<line x1="524.04" y1="276.74" x2="529.24" y2="276.74" stroke="#b00000" stroke-width="1.4"/>
<line x1="524.04" y1="283.46" x2="529.24" y2="283.46" stroke="#b00000" stroke-width="1.4"/>
<line x1="532.76" y1="267.41" x2="532.76" y2="276.37" stroke="#b00000" stroke-width="1.4"/>
<line x1="530.16" y1="267.41" x2="535.36" y2="267.41" stroke="#b00000" stroke-width="1.4"/>
<line x1="530.16" y1="276.37" x2="535.36" y2="276.37" stroke="#b00000" stroke-width="1.4"/>
<line x1="538.88" y1="263.3" x2="538.88" y2="273.01" stroke="#b00000" stroke-width="1.4"/>
<line x1="536.28" y1="263.3" x2="541.48" y2="263.3" stroke="#b00000" stroke-width="1.4"/>
<line x1="536.28" y1="273.01" x2="541.48" y2="273.01" stroke="#b00000" stroke-width="1.4"/>
<line x1="545" y1="256.58" x2="545" y2="268.53" stroke="#b00000" stroke-width="1.4"/>
<line x1="542.4" y1="256.58" x2="547.6" y2="256.58" stroke="#b00000" stroke-width="1.4"/>
<line x1="542.4" y1="268.53" x2="547.6" y2="268.53" stroke="#b00000" stroke-width="1.4"/>
<line x1="551.12" y1="248.37" x2="551.12" y2="264.05" stroke="#b00000" stroke-width="1.4"/>
<line x1="548.52" y1="248.37" x2="553.72" y2="248.37" stroke="#b00000" stroke-width="1.4"/>
<line x1="548.52" y1="264.05" x2="553.72" y2="264.05" stroke="#b00000" stroke-width="1.4"/>
<line x1="557.24" y1="245.38" x2="557.24" y2="261.81" stroke="#b00000" stroke-width="1.4"/>
<line x1="554.64" y1="245.38" x2="559.84" y2="245.38" stroke="#b00000" stroke-width="1.4"/>
<line x1="554.64" y1="261.81" x2="559.84" y2="261.81" stroke="#b00000" stroke-width="1.4"/>
<line x1="563.36" y1="237.54" x2="563.36" y2="255.46" stroke="#b00000" stroke-width="1.4"/>
<line x1="560.76" y1="237.54" x2="565.96" y2="237.54" stroke="#b00000" stroke-width="1.4"/>
<line x1="560.76" y1="255.46" x2="565.96" y2="255.46" stroke="#b00000" stroke-width="1.4"/>
<circle cx="489.92" cy="330.13" r="2.9" fill="#a00000" stroke="#000" stroke-width="0.9"/>
<circle cx="496.04" cy="315.57" r="2.9" fill="#a00000" stroke="#000" stroke-width="0.9"/>
<circle cx="502.16" cy="306.23" r="2.9" fill="#a00000" stroke="#000" stroke-width="0.9"/>
<circle cx="508.28" cy="298.77" r="2.9" fill="#a00000" stroke="#000" stroke-width="0.9"/>
<circle cx="514.4" cy="292.05" r="2.9" fill="#a00000" stroke="#000" stroke-width="0.9"/>
<circle cx="520.52" cy="285.33" r="2.9" fill="#a00000" stroke="#000" stroke-width="0.9"/>
<circle cx="526.64" cy="280.1" r="2.9" fill="#a00000" stroke="#000" stroke-width="0.9"/>
<circle cx="532.76" cy="271.89" r="2.9" fill="#a00000" stroke="#000" stroke-width="0.9"/>
<circle cx="538.88" cy="268.15" r="2.9" fill="#a00000" stroke="#000" stroke-width="0.9"/>
<circle cx="545" cy="262.55" r="2.9" fill="#a00000" stroke="#000" stroke-width="0.9"/>
<circle cx="551.12" cy="256.21" r="2.9" fill="#a00000" stroke="#000" stroke-width="0.9"/>
<circle cx="557.24" cy="253.59" r="2.9" fill="#a00000" stroke="#000" stroke-width="0.9"/>
<circle cx="563.36" cy="246.5" r="2.9" fill="#a00000" stroke="#000" stroke-width="0.9"/>
<line x1="514.4" y1="295.78" x2="514.4" y2="299.51" stroke="#000" stroke-width="1.4"/>
<line x1="511.8" y1="295.78" x2="517" y2="295.78" stroke="#000" stroke-width="1.4"/>
<line x1="511.8" y1="299.51" x2="517" y2="299.51" stroke="#000" stroke-width="1.4"/>
<line x1="520.52" y1="291.3" x2="520.52" y2="295.78" stroke="#000" stroke-width="1.4"/>
<line x1="517.92" y1="291.3" x2="523.12" y2="291.3" stroke="#000" stroke-width="1.4"/>
<line x1="517.92" y1="295.78" x2="523.12" y2="295.78" stroke="#000" stroke-width="1.4"/>
<line x1="526.64" y1="285.7" x2="526.64" y2="290.93" stroke="#000" stroke-width="1.4"/>
<line x1="524.04" y1="285.7" x2="529.24" y2="285.7" stroke="#000" stroke-width="1.4"/>
<line x1="524.04" y1="290.93" x2="529.24" y2="290.93" stroke="#000" stroke-width="1.4"/>
<line x1="532.76" y1="284.95" x2="532.76" y2="290.18" stroke="#000" stroke-width="1.4"/>
<line x1="530.16" y1="284.95" x2="535.36" y2="284.95" stroke="#000" stroke-width="1.4"/>
<line x1="530.16" y1="290.18" x2="535.36" y2="290.18" stroke="#000" stroke-width="1.4"/>
<line x1="538.88" y1="279.35" x2="538.88" y2="285.33" stroke="#000" stroke-width="1.4"/>
<line x1="536.28" y1="279.35" x2="541.48" y2="279.35" stroke="#000" stroke-width="1.4"/>
<line x1="536.28" y1="285.33" x2="541.48" y2="285.33" stroke="#000" stroke-width="1.4"/>
<line x1="545" y1="275.62" x2="545" y2="281.59" stroke="#000" stroke-width="1.4"/>
<line x1="542.4" y1="275.62" x2="547.6" y2="275.62" stroke="#000" stroke-width="1.4"/>
<line x1="542.4" y1="281.59" x2="547.6" y2="281.59" stroke="#000" stroke-width="1.4"/>
<line x1="551.12" y1="271.89" x2="551.12" y2="278.61" stroke="#000" stroke-width="1.4"/>
<line x1="548.52" y1="271.89" x2="553.72" y2="271.89" stroke="#000" stroke-width="1.4"/>
<line x1="548.52" y1="278.61" x2="553.72" y2="278.61" stroke="#000" stroke-width="1.4"/>
<line x1="557.24" y1="268.9" x2="557.24" y2="276.37" stroke="#000" stroke-width="1.4"/>
<line x1="554.64" y1="268.9" x2="559.84" y2="268.9" stroke="#000" stroke-width="1.4"/>
<line x1="554.64" y1="276.37" x2="559.84" y2="276.37" stroke="#000" stroke-width="1.4"/>
<line x1="563.36" y1="266.29" x2="563.36" y2="274.5" stroke="#000" stroke-width="1.4"/>
<line x1="560.76" y1="266.29" x2="565.96" y2="266.29" stroke="#000" stroke-width="1.4"/>
<line x1="560.76" y1="274.5" x2="565.96" y2="274.5" stroke="#000" stroke-width="1.4"/>
<circle cx="489.92" cy="331.62" r="2.9" fill="#000" stroke="none" stroke-width="0.8"/>
<circle cx="496.04" cy="318.93" r="2.9" fill="#000" stroke="none" stroke-width="0.8"/>
<circle cx="502.16" cy="311.83" r="2.9" fill="#000" stroke="none" stroke-width="0.8"/>
<circle cx="508.28" cy="304.37" r="2.9" fill="#000" stroke="none" stroke-width="0.8"/>
<circle cx="514.4" cy="297.65" r="2.9" fill="#000" stroke="none" stroke-width="0.8"/>
<circle cx="520.52" cy="293.54" r="2.9" fill="#000" stroke="none" stroke-width="0.8"/>
<circle cx="526.64" cy="288.31" r="2.9" fill="#000" stroke="none" stroke-width="0.8"/>
<circle cx="532.76" cy="287.57" r="2.9" fill="#000" stroke="none" stroke-width="0.8"/>
<circle cx="538.88" cy="282.34" r="2.9" fill="#000" stroke="none" stroke-width="0.8"/>
<circle cx="545" cy="278.61" r="2.9" fill="#000" stroke="none" stroke-width="0.8"/>
<circle cx="551.12" cy="275.25" r="2.9" fill="#000" stroke="none" stroke-width="0.8"/>
<circle cx="557.24" cy="272.63" r="2.9" fill="#000" stroke="none" stroke-width="0.8"/>
<circle cx="563.36" cy="270.39" r="2.9" fill="#000" stroke="none" stroke-width="0.8"/>
<line x1="573.1" y1="241.9" x2="573.1" y2="276.1" stroke="#1a1a1a" stroke-width="1.9"/>
<path d="M581.4,257.95 L581.4,263.45 M579.02,259.32 L583.78,262.07 M579.02,262.07 L583.78,259.32" stroke="#000" stroke-width="1.35" stroke-linecap="round" fill="none"/>
<circle cx="581.4" cy="260.7" r="1.24" fill="#000" stroke="none" stroke-width="0.8"/>
<circle cx="616.2" cy="249.3" r="3" fill="#000" stroke="none" stroke-width="0.8"/>
<text x="632.9" y="254" font-size="13.7" text-anchor="start" fill="#000" font-style="italic">control</text>
<circle cx="616.2" cy="269" r="3" fill="#a00000" stroke="#000" stroke-width="0.9"/>
<text x="632.9" y="273.7" font-size="13.7" text-anchor="start" fill="#000" font-style="italic">CRS</text>
<text x="0" y="0" font-size="29.12" font-weight="bold" transform="translate(-0.45 388.99) scale(0.956 1)">D</text>
<text x="89.4" y="374.6" font-size="15.7" text-anchor="start" fill="#000" font-style="italic">control</text>
<text x="225.2" y="374.2" font-size="15.7" text-anchor="start" fill="#c40010" font-style="italic">CRS</text>
<polyline points="91.6,387.8 92.3,388.58 93,388.49 93.7,387.93 94.4,388.19 95.1,388.14 95.8,388.37 96.5,388.52 97.2,387.75 97.9,387.68 98.6,388.57 99.3,388.13 100,388.49 100.7,387.65 101.4,388.14 102.1,388.44 102.8,387.9 103.5,388.69 104.2,388.64 104.9,387.68 105.6,387.68 106.3,388.25 107,388.68 107.7,388.07 108.4,387.89 109.1,388.11 109.8,387.68 110.5,387.89 111.2,388.13 111.9,388.2 112.6,387.91 113.3,387.9 114,387.89 114.7,388.16 115.4,387.97 116.1,387.67 116.8,388.57 117.5,388.26 118.2,388.36 118.9,387.85 119.6,388.74 120.3,388.6 121,387.78 121.7,388.02 122.4,388.44 123.1,388.43 123.8,388.68 124.5,388.11 125.2,388.56 125.9,388.39 126.6,387.98 127.3,388.3 128,388.62 128.7,388.58 129.4,388.21 130.1,388.3 130.8,387.69 131.5,387.92 132.2,388.53 132.9,388.11 133.6,387.84 134.3,388.25 135,388.42 135.7,388.39 136.4,388.06 137.1,388.13 137.8,388.21 138.5,388.51 139.2,388.22 139.9,388.08 140.6,388.19 141.3,387.68 142,387.7 142.7,388.42 143.4,388.73 144.1,388.3 144.8,388.08 145.5,387.84 146.2,388.2 146.9,388.73 147.6,388.5 148.3,388.24 149,388.6 149.7,387.91 150.4,388.22 151.1,388.7 151.8,388.29 152.5,388.16 153.2,387.95 153.9,388.25 154.6,388.7 155.3,387.66 156,388.51 156.7,388.55 157.4,388.62 158.1,388.46 158.8,388.54 159.5,388.22 160.2,388.27 160.9,388.12 161.6,387.71 162.3,388.61 163,388.28 163.7,387.87 164.4,388.21 165.1,388.18 165.8,388.04 166.5,388.03 167.2,388.24 167.9,388.34 168.6,388.32 169.3,388.15 170,387.68 170.7,387.9 171.4,387.84 172.1,388.29 172.8,388.6 173.5,388.53 174.2,388.53 174.9,388.55 175.6,387.93 176.3,388.58 177,388.39 177.7,387.74 178.4,387.67 179.1,387.67 179.8,388.48 180.5,387.92 181.2,387.77" stroke="#000" stroke-width="2.5" fill="none" stroke-linejoin="round"/>
<path d="M95.55,388.2 L95.95,401.2 L96.65,388.2 Z" fill="#000" stroke="#000" stroke-width="1.35" stroke-linejoin="round"/>
<path d="M102.15,388.2 L102.55,397.5 L103.25,388.2 Z" fill="#000" stroke="#000" stroke-width="1.35" stroke-linejoin="round"/>
<path d="M108.65,388.2 L109.05,410.3 L109.75,388.2 Z" fill="#000" stroke="#000" stroke-width="1.35" stroke-linejoin="round"/>
<path d="M110.65,388.2 L111.05,419.1 L111.75,388.2 Z" fill="#000" stroke="#000" stroke-width="1.35" stroke-linejoin="round"/>
<path d="M114.85,388.2 L115.25,398.2 L115.95,388.2 Z" fill="#000" stroke="#000" stroke-width="1.35" stroke-linejoin="round"/>
<path d="M118.35,388.2 L118.75,403.4 L119.45,388.2 Z" fill="#000" stroke="#000" stroke-width="1.35" stroke-linejoin="round"/>
<path d="M119.45,388.2 L119.85,410.7 L120.55,388.2 Z" fill="#000" stroke="#000" stroke-width="1.35" stroke-linejoin="round"/>
<path d="M120.85,388.2 L121.25,406.3 L121.95,388.2 Z" fill="#000" stroke="#000" stroke-width="1.35" stroke-linejoin="round"/>
<path d="M121.95,388.2 L122.35,396 L123.05,388.2 Z" fill="#000" stroke="#000" stroke-width="1.35" stroke-linejoin="round"/>
<path d="M124.55,388.2 L124.95,396.4 L125.65,388.2 Z" fill="#000" stroke="#000" stroke-width="1.35" stroke-linejoin="round"/>
<path d="M126.35,388.2 L126.75,403.4 L127.45,388.2 Z" fill="#000" stroke="#000" stroke-width="1.35" stroke-linejoin="round"/>
<path d="M135.45,388.2 L135.85,403.4 L136.55,388.2 Z" fill="#000" stroke="#000" stroke-width="1.35" stroke-linejoin="round"/>
<path d="M144.85,388.2 L145.25,399.7 L145.95,388.2 Z" fill="#000" stroke="#000" stroke-width="1.35" stroke-linejoin="round"/>
<path d="M147.65,388.2 L148.05,403.4 L148.75,388.2 Z" fill="#000" stroke="#000" stroke-width="1.35" stroke-linejoin="round"/>
<path d="M151.25,388.2 L151.65,421.6 L152.35,388.2 Z" fill="#000" stroke="#000" stroke-width="1.35" stroke-linejoin="round"/>
<path d="M156.95,388.2 L157.35,402.6 L158.05,388.2 Z" fill="#000" stroke="#000" stroke-width="1.35" stroke-linejoin="round"/>
<path d="M163.65,388.2 L164.05,400.1 L164.75,388.2 Z" fill="#000" stroke="#000" stroke-width="1.35" stroke-linejoin="round"/>
<path d="M170.05,388.2 L170.45,414.3 L171.15,388.2 Z" fill="#000" stroke="#000" stroke-width="1.35" stroke-linejoin="round"/>
<path d="M172.65,388.2 L173.05,393.1 L173.75,388.2 Z" fill="#000" stroke="#000" stroke-width="1.35" stroke-linejoin="round"/>
<path d="M177.15,388.2 L177.55,396.1 L178.25,388.2 Z" fill="#000" stroke="#000" stroke-width="1.35" stroke-linejoin="round"/>
<path d="M166.05,388.2 L166.45,391.7 L167.15,388.2 Z" fill="#000" stroke="#000" stroke-width="1.35" stroke-linejoin="round"/>
<path d="M98.65,388.2 L99.05,392 L99.75,388.2 Z" fill="#000" stroke="#000" stroke-width="1.35" stroke-linejoin="round"/>
<path d="M105.65,388.2 L106.05,392.5 L106.75,388.2 Z" fill="#000" stroke="#000" stroke-width="1.35" stroke-linejoin="round"/>
<path d="M113.15,388.2 L113.55,393 L114.25,388.2 Z" fill="#000" stroke="#000" stroke-width="1.35" stroke-linejoin="round"/>
<path d="M129.65,388.2 L130.05,392 L130.75,388.2 Z" fill="#000" stroke="#000" stroke-width="1.35" stroke-linejoin="round"/>
<path d="M139.65,388.2 L140.05,392.5 L140.75,388.2 Z" fill="#000" stroke="#000" stroke-width="1.35" stroke-linejoin="round"/>
<path d="M159.65,388.2 L160.05,393 L160.75,388.2 Z" fill="#000" stroke="#000" stroke-width="1.35" stroke-linejoin="round"/>
<path d="M179.65,388.2 L180.05,392 L180.75,388.2 Z" fill="#000" stroke="#000" stroke-width="1.35" stroke-linejoin="round"/>
<polyline points="200.6,388.8 201.3,388.78 202,387.79 202.7,387.81 203.4,388.62 204.1,388.5 204.8,388.41 205.5,388 206.2,388.32 206.9,388.31 207.6,388.26 208.3,387.79 209,388.07 209.7,388.02 210.4,388.37 211.1,388.66 211.8,388.6 212.5,388.14 213.2,388.02 213.9,387.81 214.6,387.54 215.3,387.52 216,387.99 216.7,387.81 217.4,387.87 218.1,388.42 218.8,388 219.5,388.03 220.2,387.66 220.9,387.42 221.6,387.73 222.3,387.51 223,387.91 223.7,388.44 224.4,388.07 225.1,387.51 225.8,388.28 226.5,388.17 227.2,388.08 227.9,388.26 228.6,388.09 229.3,388.11 230,387.62 230.7,388.29 231.4,388.26 232.1,387.37 232.8,388.01 233.5,387.95 234.2,387.66 234.9,387.72 235.6,387.67 236.3,388.13 237,387.65 237.7,388.01 238.4,387.47 239.1,388.04 239.8,388.04 240.5,387.55 241.2,387.65 241.9,388.03 242.6,387.8 243.3,387.53 244,387.22 244.7,387.32 245.4,387.72 246.1,387.12 246.8,387.93 247.5,387.21 248.2,387.91 248.9,387.23 249.6,387.93 250.3,387.64 251,387.41 251.7,387.41 252.4,387.55 253.1,387.46 253.8,387.15 254.5,387.02 255.2,387.34 255.9,387.79 256.6,387.44 257.3,386.82 258,387.63 258.7,387.52 259.4,387.7 260.1,386.9 260.8,387.5 261.5,386.73 262.2,387.37 262.9,386.94 263.6,386.88 264.3,387.58 265,386.72 265.7,387.17 266.4,387.52 267.1,386.84 267.8,386.79 268.5,387.51 269.2,387 269.9,387.31 270.6,386.54 271.3,386.89 272,386.67 272.7,387.21 273.4,386.55 274.1,387.49 274.8,386.46 275.5,387.22 276.2,386.43 276.9,386.67 277.6,387.28 278.3,386.54 279,386.56 279.7,387.1 280.4,386.76 281.1,386.37 281.8,387.4 282.5,386.46 283.2,386.32 283.9,386.65 284.6,386.93 285.3,387.06 286,386.36 286.7,386.59 287.4,386.24 288.1,386.69 288.8,387.02 289.5,386.98 290.2,387.15" stroke="#000" stroke-width="2.5" fill="none" stroke-linejoin="round"/>
<path d="M208.45,388.15 L208.85,395.7 L209.55,388.15 Z" fill="#000" stroke="#000" stroke-width="1.35" stroke-linejoin="round"/>
<path d="M213.15,388.07 L213.55,391 L214.25,388.07 Z" fill="#000" stroke="#000" stroke-width="1.35" stroke-linejoin="round"/>
<path d="M216.45,388.01 L216.85,403 L217.55,388.01 Z" fill="#000" stroke="#000" stroke-width="1.35" stroke-linejoin="round"/>
<path d="M219.15,387.96 L219.55,415.4 L220.25,387.96 Z" fill="#000" stroke="#000" stroke-width="1.35" stroke-linejoin="round"/>
<path d="M223.15,387.89 L223.55,395 L224.25,387.89 Z" fill="#000" stroke="#000" stroke-width="1.35" stroke-linejoin="round"/>
<path d="M227.25,387.82 L227.65,408.5 L228.35,387.82 Z" fill="#000" stroke="#000" stroke-width="1.35" stroke-linejoin="round"/>
<path d="M228.65,387.8 L229.05,396 L229.75,387.8 Z" fill="#000" stroke="#000" stroke-width="1.35" stroke-linejoin="round"/>
<path d="M233.45,387.71 L233.85,403.7 L234.55,387.71 Z" fill="#000" stroke="#000" stroke-width="1.35" stroke-linejoin="round"/>
<path d="M234.85,387.68 L235.25,401.9 L235.95,387.68 Z" fill="#000" stroke="#000" stroke-width="1.35" stroke-linejoin="round"/>
<path d="M238.15,387.63 L238.55,413.2 L239.25,387.63 Z" fill="#000" stroke="#000" stroke-width="1.35" stroke-linejoin="round"/>
<path d="M241.85,387.56 L242.25,414.3 L242.95,387.56 Z" fill="#000" stroke="#000" stroke-width="1.35" stroke-linejoin="round"/>
<path d="M239.25,387.61 L239.65,392.4 L240.35,387.61 Z" fill="#000" stroke="#000" stroke-width="1.35" stroke-linejoin="round"/>
<path d="M247.25,387.46 L247.65,393.9 L248.35,387.46 Z" fill="#000" stroke="#000" stroke-width="1.35" stroke-linejoin="round"/>
<path d="M249.15,387.43 L249.55,400.8 L250.25,387.43 Z" fill="#000" stroke="#000" stroke-width="1.35" stroke-linejoin="round"/>
<path d="M252.65,387.37 L253.05,395.7 L253.75,387.37 Z" fill="#000" stroke="#000" stroke-width="1.35" stroke-linejoin="round"/>
<path d="M255.95,387.31 L256.35,401.2 L257.05,387.31 Z" fill="#000" stroke="#000" stroke-width="1.35" stroke-linejoin="round"/>
<path d="M259.95,387.24 L260.35,405.5 L261.05,387.24 Z" fill="#000" stroke="#000" stroke-width="1.35" stroke-linejoin="round"/>
<path d="M263.65,387.17 L264.05,395.7 L264.75,387.17 Z" fill="#000" stroke="#000" stroke-width="1.35" stroke-linejoin="round"/>
<path d="M270.95,387.04 L271.35,394.6 L272.05,387.04 Z" fill="#000" stroke="#000" stroke-width="1.35" stroke-linejoin="round"/>
<path d="M274.75,386.98 L275.15,411.4 L275.85,386.98 Z" fill="#000" stroke="#000" stroke-width="1.35" stroke-linejoin="round"/>
<path d="M287.75,386.74 L288.15,389.5 L288.85,386.74 Z" fill="#000" stroke="#000" stroke-width="1.35" stroke-linejoin="round"/>
<path d="M221.15,387.93 L221.55,393 L222.25,387.93 Z" fill="#000" stroke="#000" stroke-width="1.35" stroke-linejoin="round"/>
<path d="M230.65,387.76 L231.05,393.5 L231.75,387.76 Z" fill="#000" stroke="#000" stroke-width="1.35" stroke-linejoin="round"/>
<path d="M244.65,387.51 L245.05,392.5 L245.75,387.51 Z" fill="#000" stroke="#000" stroke-width="1.35" stroke-linejoin="round"/>
<path d="M257.65,387.28 L258.05,392.5 L258.75,387.28 Z" fill="#000" stroke="#000" stroke-width="1.35" stroke-linejoin="round"/>
<path d="M267.65,387.1 L268.05,392 L268.75,387.1 Z" fill="#000" stroke="#000" stroke-width="1.35" stroke-linejoin="round"/>
<path d="M278.65,386.91 L279.05,391.5 L279.75,386.91 Z" fill="#000" stroke="#000" stroke-width="1.35" stroke-linejoin="round"/>
<polyline points="290,424.4 311.7,424.4 311.7,410.7" stroke="#000" stroke-width="1.5" fill="none"/>
<text x="315" y="421.5" font-size="11.8" text-anchor="start" fill="#000" font-style="italic">50 pA</text>
<text x="288" y="437.3" font-size="11.8" text-anchor="start" fill="#000" font-style="italic">500 ms</text>
<line x1="91.1" y1="420.2" x2="91.1" y2="519.6" stroke="#000" stroke-width="1.8"/>
<line x1="85.6" y1="420.2" x2="91.1" y2="420.2" stroke="#000" stroke-width="1.8"/>
<text x="0" y="0" font-size="11.8" text-anchor="end" fill="#000" transform="translate(84.7 424.64) scale(1 1.060)">50</text>
<line x1="85.6" y1="439.9" x2="91.1" y2="439.9" stroke="#000" stroke-width="1.8"/>
<text x="0" y="0" font-size="11.8" text-anchor="end" fill="#000" transform="translate(84.7 444.34) scale(1 1.060)">40</text>
<line x1="85.6" y1="459.6" x2="91.1" y2="459.6" stroke="#000" stroke-width="1.8"/>
<text x="0" y="0" font-size="11.8" text-anchor="end" fill="#000" transform="translate(84.7 464.04) scale(1 1.060)">30</text>
<line x1="85.6" y1="479.3" x2="91.1" y2="479.3" stroke="#000" stroke-width="1.8"/>
<text x="0" y="0" font-size="11.8" text-anchor="end" fill="#000" transform="translate(84.7 483.74) scale(1 1.060)">20</text>
<line x1="85.6" y1="499" x2="91.1" y2="499" stroke="#000" stroke-width="1.8"/>
<text x="0" y="0" font-size="11.8" text-anchor="end" fill="#000" transform="translate(84.7 503.44) scale(1 1.060)">10</text>
<line x1="85.6" y1="518.7" x2="91.1" y2="518.7" stroke="#000" stroke-width="1.8"/>
<text x="0" y="0" font-size="11.8" text-anchor="end" fill="#000" transform="translate(84.7 523.14) scale(1 1.060)">0</text>
<line x1="90.2" y1="518.7" x2="156.9" y2="518.7" stroke="#000" stroke-width="1.8"/>
<line x1="109.7" y1="518.7" x2="109.7" y2="524.4" stroke="#000" stroke-width="1.8"/>
<line x1="138.1" y1="518.7" x2="138.1" y2="524.4" stroke="#000" stroke-width="1.8"/>
<rect x="101.1" y="494.5" width="17.3" height="24.2" fill="#fff" stroke="#000" stroke-width="1.8"/>
<rect x="129.5" y="486.4" width="17.2" height="32.3" fill="#fff" stroke="#000" stroke-width="1.8"/>
<line x1="109.7" y1="490" x2="109.7" y2="499" stroke="#999" stroke-width="1.2"/>
<line x1="107.2" y1="490" x2="112.2" y2="490" stroke="#999" stroke-width="1.2"/>
<line x1="107.2" y1="499" x2="112.2" y2="499" stroke="#999" stroke-width="1.2"/>
<line x1="138.1" y1="478.5" x2="138.1" y2="494.3" stroke="#999" stroke-width="1.2"/>
<line x1="135.6" y1="478.5" x2="140.6" y2="478.5" stroke="#999" stroke-width="1.2"/>
<line x1="135.6" y1="494.3" x2="140.6" y2="494.3" stroke="#999" stroke-width="1.2"/>
<circle cx="109.7" cy="467.8" r="2.6" fill="#000" stroke="none" stroke-width="0.8"/>
<circle cx="109.7" cy="481.4" r="2.6" fill="#000" stroke="none" stroke-width="0.8"/>
<circle cx="116.6" cy="487.5" r="2.6" fill="#000" stroke="none" stroke-width="0.8"/>
<circle cx="109.7" cy="489.8" r="2.6" fill="#000" stroke="none" stroke-width="0.8"/>
<circle cx="103" cy="491.2" r="2.6" fill="#000" stroke="none" stroke-width="0.8"/>
<circle cx="109.7" cy="495" r="2.6" fill="#000" stroke="none" stroke-width="0.8"/>
<circle cx="103" cy="497.8" r="2.6" fill="#000" stroke="none" stroke-width="0.8"/>
<circle cx="116.6" cy="497.3" r="2.6" fill="#000" stroke="none" stroke-width="0.8"/>
<circle cx="103" cy="503.4" r="2.6" fill="#000" stroke="none" stroke-width="0.8"/>
<circle cx="109.7" cy="503.9" r="2.6" fill="#000" stroke="none" stroke-width="0.8"/>
<circle cx="116.6" cy="503.4" r="2.6" fill="#000" stroke="none" stroke-width="0.8"/>
<circle cx="109.7" cy="510" r="2.6" fill="#000" stroke="none" stroke-width="0.8"/>
<circle cx="116.7" cy="500.6" r="2.6" fill="#000" stroke="none" stroke-width="0.8"/>
<circle cx="137.9" cy="443.6" r="2.6" fill="#a00000" stroke="none" stroke-width="0.8"/>
<circle cx="137.9" cy="451.7" r="2.6" fill="#a00000" stroke="none" stroke-width="0.8"/>
<circle cx="131.1" cy="480.9" r="2.6" fill="#a00000" stroke="none" stroke-width="0.8"/>
<circle cx="135.5" cy="480" r="2.6" fill="#a00000" stroke="none" stroke-width="0.8"/>
<circle cx="140.3" cy="477.7" r="2.6" fill="#a00000" stroke="none" stroke-width="0.8"/>
<circle cx="144.7" cy="480.9" r="2.6" fill="#a00000" stroke="none" stroke-width="0.8"/>
<circle cx="131.1" cy="489.2" r="2.6" fill="#a00000" stroke="none" stroke-width="0.8"/>
<circle cx="140.3" cy="490.5" r="2.6" fill="#a00000" stroke="none" stroke-width="0.8"/>
<circle cx="144.7" cy="489.6" r="2.6" fill="#a00000" stroke="none" stroke-width="0.8"/>
<circle cx="135.5" cy="494.2" r="2.6" fill="#a00000" stroke="none" stroke-width="0.8"/>
<circle cx="144.7" cy="495.5" r="2.6" fill="#a00000" stroke="none" stroke-width="0.8"/>
<circle cx="140.3" cy="498.3" r="2.6" fill="#a00000" stroke="none" stroke-width="0.8"/>
<circle cx="137.9" cy="503.4" r="2.6" fill="#a00000" stroke="none" stroke-width="0.8"/>
<circle cx="142.3" cy="504.6" r="2.6" fill="#a00000" stroke="none" stroke-width="0.8"/>
<circle cx="133.2" cy="507.7" r="2.6" fill="#a00000" stroke="none" stroke-width="0.8"/>
<text x="109.8" y="536" font-size="10.8" text-anchor="middle" fill="#000" textLength="31" lengthAdjust="spacingAndGlyphs">control</text>
<text x="137.6" y="536" font-size="10.8" text-anchor="middle" fill="#000">CRS</text>
<text x="65.9" y="468.4" font-size="13.2" text-anchor="middle" fill="#000" transform="rotate(-90 65.9 468.4)" textLength="88" lengthAdjust="spacingAndGlyphs">sIPSC freq. (Hz)</text>
<line x1="213.9" y1="419.2" x2="213.9" y2="519.2" stroke="#000" stroke-width="1.8"/>
<line x1="208.4" y1="419.2" x2="213.9" y2="419.2" stroke="#000" stroke-width="1.8"/>
<text x="0" y="0" font-size="10.9" text-anchor="end" fill="#000" transform="translate(207.2 423.07) scale(1 1.000)">80</text>
<line x1="208.4" y1="443.97" x2="213.9" y2="443.97" stroke="#000" stroke-width="1.8"/>
<text x="0" y="0" font-size="10.9" text-anchor="end" fill="#000" transform="translate(207.2 447.84) scale(1 1.000)">60</text>
<line x1="208.4" y1="468.75" x2="213.9" y2="468.75" stroke="#000" stroke-width="1.8"/>
<text x="0" y="0" font-size="10.9" text-anchor="end" fill="#000" transform="translate(207.2 472.62) scale(1 1.000)">40</text>
<line x1="208.4" y1="493.52" x2="213.9" y2="493.52" stroke="#000" stroke-width="1.8"/>
<text x="0" y="0" font-size="10.9" text-anchor="end" fill="#000" transform="translate(207.2 497.39) scale(1 1.000)">20</text>
<line x1="208.4" y1="518.3" x2="213.9" y2="518.3" stroke="#000" stroke-width="1.8"/>
<text x="0" y="0" font-size="10.9" text-anchor="end" fill="#000" transform="translate(207.2 522.17) scale(1 1.000)">0</text>
<line x1="213" y1="518.3" x2="280.4" y2="518.3" stroke="#000" stroke-width="1.8"/>
<line x1="232.9" y1="518.3" x2="232.9" y2="524" stroke="#000" stroke-width="1.8"/>
<line x1="261.2" y1="518.3" x2="261.2" y2="524" stroke="#000" stroke-width="1.8"/>
<rect x="224" y="482.3" width="17.7" height="36" fill="#fff" stroke="#000" stroke-width="1.8"/>
<rect x="252.3" y="474.3" width="17.7" height="44" fill="#fff" stroke="#000" stroke-width="1.8"/>
<line x1="232.9" y1="477" x2="232.9" y2="487" stroke="#999" stroke-width="1.2"/>
<line x1="230.1" y1="477" x2="235.7" y2="477" stroke="#999" stroke-width="1.2"/>
<line x1="230.1" y1="487" x2="235.7" y2="487" stroke="#999" stroke-width="1.2"/>
<line x1="261.2" y1="469.9" x2="261.2" y2="478.5" stroke="#999" stroke-width="1.2"/>
<line x1="258.4" y1="469.9" x2="264" y2="469.9" stroke="#999" stroke-width="1.2"/>
<line x1="258.4" y1="478.5" x2="264" y2="478.5" stroke="#999" stroke-width="1.2"/>
<circle cx="232.6" cy="447.3" r="2.6" fill="#000" stroke="none" stroke-width="0.8"/>
<circle cx="232.6" cy="456.4" r="2.6" fill="#000" stroke="none" stroke-width="0.8"/>
<circle cx="230.4" cy="473.8" r="2.6" fill="#000" stroke="none" stroke-width="0.8"/>
<circle cx="235" cy="473.5" r="2.6" fill="#000" stroke="none" stroke-width="0.8"/>
<circle cx="225.8" cy="484.1" r="2.6" fill="#000" stroke="none" stroke-width="0.8"/>
<circle cx="225.8" cy="489.6" r="2.6" fill="#000" stroke="none" stroke-width="0.8"/>
<circle cx="230.4" cy="489.1" r="2.6" fill="#000" stroke="none" stroke-width="0.8"/>
<circle cx="235" cy="489.7" r="2.6" fill="#000" stroke="none" stroke-width="0.8"/>
<circle cx="239.7" cy="487.8" r="2.6" fill="#000" stroke="none" stroke-width="0.8"/>
<circle cx="239.7" cy="492.9" r="2.6" fill="#000" stroke="none" stroke-width="0.8"/>
<circle cx="235" cy="495.6" r="2.6" fill="#000" stroke="none" stroke-width="0.8"/>
<circle cx="225.8" cy="498" r="2.6" fill="#000" stroke="none" stroke-width="0.8"/>
<circle cx="228.5" cy="486" r="2.6" fill="#000" stroke="none" stroke-width="0.8"/>
<circle cx="258.7" cy="449" r="2.6" fill="#a00000" stroke="none" stroke-width="0.8"/>
<circle cx="254.1" cy="453.1" r="2.6" fill="#a00000" stroke="none" stroke-width="0.8"/>
<circle cx="268" cy="453.1" r="2.6" fill="#a00000" stroke="none" stroke-width="0.8"/>
<circle cx="258.7" cy="457" r="2.6" fill="#a00000" stroke="none" stroke-width="0.8"/>
<circle cx="263.3" cy="456.8" r="2.6" fill="#a00000" stroke="none" stroke-width="0.8"/>
<circle cx="268" cy="475.6" r="2.6" fill="#a00000" stroke="none" stroke-width="0.8"/>
<circle cx="258.7" cy="477.6" r="2.6" fill="#a00000" stroke="none" stroke-width="0.8"/>
<circle cx="263.3" cy="477.2" r="2.6" fill="#a00000" stroke="none" stroke-width="0.8"/>
<circle cx="254.1" cy="481.6" r="2.6" fill="#a00000" stroke="none" stroke-width="0.8"/>
<circle cx="258.7" cy="483.5" r="2.6" fill="#a00000" stroke="none" stroke-width="0.8"/>
<circle cx="263.3" cy="485" r="2.6" fill="#a00000" stroke="none" stroke-width="0.8"/>
<circle cx="268" cy="485.8" r="2.6" fill="#a00000" stroke="none" stroke-width="0.8"/>
<circle cx="254.1" cy="487.1" r="2.6" fill="#a00000" stroke="none" stroke-width="0.8"/>
<circle cx="263.3" cy="490.3" r="2.6" fill="#a00000" stroke="none" stroke-width="0.8"/>
<circle cx="258.7" cy="494.4" r="2.6" fill="#a00000" stroke="none" stroke-width="0.8"/>
<text x="232.7" y="536" font-size="10.8" text-anchor="middle" fill="#000" textLength="30.6" lengthAdjust="spacingAndGlyphs">control</text>
<text x="260.9" y="536" font-size="10.8" text-anchor="middle" fill="#000">CRS</text>
<text x="190.1" y="468.2" font-size="13.2" text-anchor="middle" fill="#000" transform="rotate(-90 190.1 468.2)" textLength="90.5" lengthAdjust="spacingAndGlyphs">sIPSC amp. (pA)</text>
<line x1="424.7" y1="397.8" x2="424.7" y2="511.1" stroke="#000" stroke-width="1.8"/>
<line x1="419.2" y1="397.8" x2="424.7" y2="397.8" stroke="#000" stroke-width="1.8"/>
<text x="0" y="0" font-size="11.8" text-anchor="end" fill="#000" transform="translate(417.4 402.24) scale(1 1.060)">40</text>
<line x1="419.2" y1="425.9" x2="424.7" y2="425.9" stroke="#000" stroke-width="1.8"/>
<text x="0" y="0" font-size="11.8" text-anchor="end" fill="#000" transform="translate(417.4 430.34) scale(1 1.060)">30</text>
<line x1="419.2" y1="454" x2="424.7" y2="454" stroke="#000" stroke-width="1.8"/>
<text x="0" y="0" font-size="11.8" text-anchor="end" fill="#000" transform="translate(417.4 458.44) scale(1 1.060)">20</text>
<line x1="419.2" y1="482.1" x2="424.7" y2="482.1" stroke="#000" stroke-width="1.8"/>
<text x="0" y="0" font-size="11.8" text-anchor="end" fill="#000" transform="translate(417.4 486.54) scale(1 1.060)">10</text>
<line x1="419.2" y1="510.2" x2="424.7" y2="510.2" stroke="#000" stroke-width="1.8"/>
<text x="0" y="0" font-size="11.8" text-anchor="end" fill="#000" transform="translate(417.4 514.64) scale(1 1.060)">0</text>
<rect x="426.1" y="473.11" width="3.5" height="37.09" fill="#000"/>
<line x1="427.85" y1="466.93" x2="427.85" y2="473.11" stroke="#000" stroke-width="1.6"/>
<rect x="439.25" y="454" width="3.5" height="56.2" fill="#000"/>
<line x1="441" y1="448.1" x2="441" y2="454" stroke="#000" stroke-width="1.6"/>
<rect x="452.4" y="446.97" width="3.5" height="63.23" fill="#000"/>
<line x1="454.15" y1="441.92" x2="454.15" y2="446.97" stroke="#000" stroke-width="1.6"/>
<rect x="465.55" y="467.21" width="3.5" height="42.99" fill="#000"/>
<line x1="467.3" y1="462.71" x2="467.3" y2="467.21" stroke="#000" stroke-width="1.6"/>
<rect x="478.7" y="476.76" width="3.5" height="33.44" fill="#000"/>
<line x1="480.45" y1="473.11" x2="480.45" y2="476.76" stroke="#000" stroke-width="1.6"/>
<rect x="491.85" y="490.25" width="3.5" height="19.95" fill="#000"/>
<line x1="493.6" y1="486.88" x2="493.6" y2="490.25" stroke="#000" stroke-width="1.6"/>
<rect x="505" y="499.24" width="3.5" height="10.96" fill="#000"/>
<line x1="506.75" y1="496.15" x2="506.75" y2="499.24" stroke="#000" stroke-width="1.6"/>
<rect x="518.15" y="504.02" width="3.5" height="6.18" fill="#000"/>
<line x1="519.9" y1="501.21" x2="519.9" y2="504.02" stroke="#000" stroke-width="1.6"/>
<rect x="531.3" y="506.27" width="3.5" height="3.93" fill="#000"/>
<line x1="533.05" y1="504.3" x2="533.05" y2="506.27" stroke="#000" stroke-width="1.6"/>
<rect x="544.45" y="507.67" width="3.5" height="2.53" fill="#000"/>
<line x1="546.2" y1="506.27" x2="546.2" y2="507.67" stroke="#000" stroke-width="1.6"/>
<rect x="557.6" y="508.8" width="3.5" height="1.41" fill="#000"/>
<line x1="559.35" y1="507.95" x2="559.35" y2="508.8" stroke="#000" stroke-width="1.6"/>
<rect x="570.75" y="509.36" width="3.5" height="0.84" fill="#000"/>
<line x1="572.5" y1="508.8" x2="572.5" y2="509.36" stroke="#000" stroke-width="1.6"/>
<rect x="583.9" y="509.64" width="3.5" height="0.56" fill="#000"/>
<line x1="585.65" y1="509.08" x2="585.65" y2="509.64" stroke="#000" stroke-width="1.6"/>
<rect x="431.1" y="474.79" width="3.5" height="35.41" fill="#a00000"/>
<line x1="432.85" y1="470.3" x2="432.85" y2="474.79" stroke="#a00000" stroke-width="1.6"/>
<rect x="444.25" y="466.93" width="3.5" height="43.27" fill="#a00000"/>
<line x1="446" y1="461.87" x2="446" y2="466.93" stroke="#a00000" stroke-width="1.6"/>
<rect x="457.4" y="459.9" width="3.5" height="50.3" fill="#a00000"/>
<line x1="459.15" y1="456.53" x2="459.15" y2="459.9" stroke="#a00000" stroke-width="1.6"/>
<rect x="470.55" y="457.09" width="3.5" height="53.11" fill="#a00000"/>
<line x1="472.3" y1="452.03" x2="472.3" y2="457.09" stroke="#a00000" stroke-width="1.6"/>
<rect x="483.7" y="473.11" width="3.5" height="37.09" fill="#a00000"/>
<line x1="485.45" y1="468.05" x2="485.45" y2="473.11" stroke="#a00000" stroke-width="1.6"/>
<rect x="496.85" y="484.35" width="3.5" height="25.85" fill="#a00000"/>
<line x1="498.6" y1="479.57" x2="498.6" y2="484.35" stroke="#a00000" stroke-width="1.6"/>
<rect x="510" y="495.03" width="3.5" height="15.17" fill="#a00000"/>
<line x1="511.75" y1="489.97" x2="511.75" y2="495.03" stroke="#a00000" stroke-width="1.6"/>
<rect x="523.15" y="502.61" width="3.5" height="7.59" fill="#a00000"/>
<line x1="524.9" y1="499.52" x2="524.9" y2="502.61" stroke="#a00000" stroke-width="1.6"/>
<rect x="536.3" y="505.99" width="3.5" height="4.21" fill="#a00000"/>
<line x1="538.05" y1="503.74" x2="538.05" y2="505.99" stroke="#a00000" stroke-width="1.6"/>
<rect x="549.45" y="506.55" width="3.5" height="3.65" fill="#a00000"/>
<line x1="551.2" y1="504.86" x2="551.2" y2="506.55" stroke="#a00000" stroke-width="1.6"/>
<rect x="562.6" y="508.51" width="3.5" height="1.69" fill="#a00000"/>
<line x1="564.35" y1="507.67" x2="564.35" y2="508.51" stroke="#a00000" stroke-width="1.6"/>
<rect x="575.75" y="508.8" width="3.5" height="1.41" fill="#a00000"/>
<line x1="577.5" y1="507.95" x2="577.5" y2="508.8" stroke="#a00000" stroke-width="1.6"/>
<rect x="588.9" y="509.08" width="3.5" height="1.12" fill="#a00000"/>
<line x1="590.65" y1="508.51" x2="590.65" y2="509.08" stroke="#a00000" stroke-width="1.6"/>
<line x1="423.8" y1="510.2" x2="593.9" y2="510.2" stroke="#000" stroke-width="1.8"/>
<line x1="429.9" y1="510.2" x2="429.9" y2="516.1" stroke="#000" stroke-width="1.8"/>
<text x="433.8" y="526.8" font-size="11.3" text-anchor="end" fill="#000" transform="rotate(-45 433.8 526.8)">0</text>
<line x1="443.05" y1="510.2" x2="443.05" y2="516.1" stroke="#000" stroke-width="1.8"/>
<text x="446.95" y="526.8" font-size="11.3" text-anchor="end" fill="#000" transform="rotate(-45 446.95 526.8)">1</text>
<line x1="456.2" y1="510.2" x2="456.2" y2="516.1" stroke="#000" stroke-width="1.8"/>
<text x="460.1" y="526.8" font-size="11.3" text-anchor="end" fill="#000" transform="rotate(-45 460.1 526.8)">2</text>
<line x1="469.35" y1="510.2" x2="469.35" y2="516.1" stroke="#000" stroke-width="1.8"/>
<text x="473.25" y="526.8" font-size="11.3" text-anchor="end" fill="#000" transform="rotate(-45 473.25 526.8)">3</text>
<line x1="482.5" y1="510.2" x2="482.5" y2="516.1" stroke="#000" stroke-width="1.8"/>
<text x="486.4" y="526.8" font-size="11.3" text-anchor="end" fill="#000" transform="rotate(-45 486.4 526.8)">4</text>
<line x1="495.65" y1="510.2" x2="495.65" y2="516.1" stroke="#000" stroke-width="1.8"/>
<text x="499.55" y="526.8" font-size="11.3" text-anchor="end" fill="#000" transform="rotate(-45 499.55 526.8)">5</text>
<line x1="508.8" y1="510.2" x2="508.8" y2="516.1" stroke="#000" stroke-width="1.8"/>
<text x="512.7" y="526.8" font-size="11.3" text-anchor="end" fill="#000" transform="rotate(-45 512.7 526.8)">6</text>
<line x1="521.95" y1="510.2" x2="521.95" y2="516.1" stroke="#000" stroke-width="1.8"/>
<text x="525.85" y="526.8" font-size="11.3" text-anchor="end" fill="#000" transform="rotate(-45 525.85 526.8)">7</text>
<line x1="535.1" y1="510.2" x2="535.1" y2="516.1" stroke="#000" stroke-width="1.8"/>
<text x="539" y="526.8" font-size="11.3" text-anchor="end" fill="#000" transform="rotate(-45 539 526.8)">8</text>
<line x1="548.25" y1="510.2" x2="548.25" y2="516.1" stroke="#000" stroke-width="1.8"/>
<text x="552.15" y="526.8" font-size="11.3" text-anchor="end" fill="#000" transform="rotate(-45 552.15 526.8)">9</text>
<line x1="561.4" y1="510.2" x2="561.4" y2="516.1" stroke="#000" stroke-width="1.8"/>
<text x="565.3" y="526.8" font-size="11.3" text-anchor="end" fill="#000" transform="rotate(-45 565.3 526.8)">10</text>
<line x1="574.55" y1="510.2" x2="574.55" y2="516.1" stroke="#000" stroke-width="1.8"/>
<text x="578.45" y="526.8" font-size="11.3" text-anchor="end" fill="#000" transform="rotate(-45 578.45 526.8)">11</text>
<line x1="587.7" y1="510.2" x2="587.7" y2="516.1" stroke="#000" stroke-width="1.8"/>
<text x="591.6" y="526.8" font-size="11.3" text-anchor="end" fill="#000" transform="rotate(-45 591.6 526.8)">12</text>
<polyline points="440.8,443.5 440.8,427.4 445.5,427.4 445.5,453.5" stroke="#000" stroke-width="1.5" fill="none"/>
<polyline points="453.9,438.3 453.9,421.9 459.1,421.9 459.1,448" stroke="#000" stroke-width="1.5" fill="none"/>
<path d="M443.35,416.05 L443.35,421.05 M441.19,417.3 L445.52,419.8 M441.19,419.8 L445.52,417.3" stroke="#000" stroke-width="1.35" stroke-linecap="round" fill="none"/>
<circle cx="443.35" cy="418.55" r="1.12" fill="#000" stroke="none" stroke-width="0.8"/>
<path d="M456.65,410.5 L456.65,415.5 M454.48,411.75 L458.81,414.25 M454.48,414.25 L458.81,411.75" stroke="#000" stroke-width="1.35" stroke-linecap="round" fill="none"/>
<circle cx="456.65" cy="413" r="1.12" fill="#000" stroke="none" stroke-width="0.8"/>
<text x="396.2" y="453.5" font-size="15" text-anchor="middle" fill="#000" transform="rotate(-90 396.2 453.5)" textLength="114" lengthAdjust="spacingAndGlyphs">% of sIPSC events</text>
<text x="509.2" y="553.5" font-size="13.7" text-anchor="middle" fill="#000" textLength="98.5" lengthAdjust="spacingAndGlyphs">decay time (ms)</text>
<rect x="519.2" y="405" width="15.5" height="7.7" fill="#000"/>
<rect x="519.2" y="424" width="15.5" height="7.4" fill="#a00000"/>
<text x="543.6" y="413.5" font-size="12.4" text-anchor="start" fill="#000" font-style="italic">control</text>
<text x="543.6" y="432.3" font-size="12.4" text-anchor="start" fill="#000" font-style="italic">CRS</text>
<text x="0" y="0" font-size="29.26" font-weight="bold" transform="translate(-0.01 594.79) scale(0.739 1)">E</text>
<text x="48.8" y="596.8" font-size="16.1" text-anchor="start" fill="#000" font-style="italic">control</text>
<text x="146.5" y="597.7" font-size="16.1" text-anchor="start" fill="#000" font-style="italic" textLength="64.5" lengthAdjust="spacingAndGlyphs">GDP-&#946;-S</text>
<text x="252.1" y="597.7" font-size="16.1" text-anchor="start" fill="#c40010" font-style="italic">CRS</text>
<text x="46.5" y="628.8" font-size="15.6" text-anchor="start" fill="#000">CGP</text>
<text x="149.1" y="628.4" font-size="15.6" text-anchor="start" fill="#000">CGP</text>
<text x="259.4" y="623.7" font-size="15.6" text-anchor="start" fill="#000">CGP</text>
<line x1="47.8" y1="636.1" x2="100" y2="636.1" stroke="#000" stroke-width="2.9"/>
<line x1="149.9" y1="635.6" x2="202" y2="635.6" stroke="#000" stroke-width="2.9"/>
<line x1="261" y1="631.4" x2="312.7" y2="631.4" stroke="#000" stroke-width="2.9"/>
<polygon points="40.8,649.02 41.3,647.97 41.8,648.29 42.3,647.91 42.8,648.24 43.3,646.48 43.8,647.09 44.3,647.66 44.8,647.27 45.3,646.18 45.8,646.68 46.3,646.13 46.8,647.87 47.3,646.48 47.8,646.07 48.3,645.26 48.8,645.92 49.3,645.1 49.8,645.8 50.3,645.56 50.8,645.11 51.3,644.71 51.8,645.58 52.3,645.15 52.8,645.57 53.3,647.08 53.8,647.51 54.3,647.87 54.8,648.26 55.3,647.13 55.8,649.29 56.3,650.1 56.8,650.78 57.3,651.7 57.8,652.76 58.3,652.64 58.8,653.05 59.3,654.23 59.8,653 60.3,654.43 60.8,655.69 61.3,656.83 61.8,656.26 62.3,656.98 62.8,656.4 63.3,656.89 63.8,658.24 64.3,658.41 64.8,658.64 65.3,658.59 65.8,658.65 66.3,658.18 66.8,657.89 67.3,659.02 67.8,657.17 68.3,660.66 68.8,659.83 69.3,659.89 69.8,660.96 70.3,661.82 70.8,661.82 71.3,661.4 71.8,663.56 72.3,663.19 72.8,662.32 73.3,662.63 73.8,663.63 74.3,662.22 74.8,663.94 75.3,664.83 75.8,664.85 76.3,665.19 76.8,664.98 77.3,664.41 77.8,664.75 78.3,665.05 78.8,663.91 79.3,665.77 79.8,665.83 80.3,665.86 80.8,667.11 81.3,667.18 81.8,666.29 82.3,667.64 82.8,667.82 83.3,667.47 83.8,666.84 84.3,666.61 84.8,667.1 85.3,667.03 85.8,667.62 86.3,668.36 86.8,667.31 87.3,668.62 87.8,668.97 88.3,668.4 88.8,668.4 89.3,667.91 89.8,668.46 90.3,667.68 90.8,667.44 91.3,667.83 91.8,667.47 92.3,668.35 92.8,668.38 93.3,669.18 93.8,669.19 94.3,670.14 94.8,669.59 95.3,668.54 95.8,669.85 96.3,670.27 96.8,669.34 97.3,669.38 97.8,668.81 98.3,669.87 98.8,669.98 99.3,669.8 99.8,670.13 100.3,669.57 100.8,669.77 101.3,667.94 101.8,668.65 102.3,668.82 102.8,667.59 103.3,666.48 103.8,665.17 104.3,663.84 104.8,661.8 105.3,661.5 105.8,660.61 106.3,659.48 106.8,658.85 107.3,657.97 107.8,656.95 108.3,656.42 108.8,655.41 109.3,654.98 109.8,654.37 110.3,654.45 110.8,652.99 111.3,651.69 111.8,652.28 112.3,650.49 112.8,649.9 113.3,649.7 113.8,649.49 114.3,648.67 114.8,648.31 115.3,647.03 115.8,647.7 116.3,647.9 116.8,647.53 117.3,647 117.8,646.71 118.3,646.76 118.8,646.8 119.3,645.84 119.8,645.48 120.3,644.4 120.8,644.09 121.3,644.89 121.8,645.01 122.3,645.12 122.8,644.91 123.3,644.77 123.3,651.19 122.8,651.32 122.3,651.64 121.8,652.12 121.3,651.6 120.8,651.56 120.3,651.64 119.8,652.48 119.3,653.48 118.8,653.57 118.3,652.99 117.8,653.19 117.3,654.6 116.8,653.32 116.3,654.75 115.8,655.43 115.3,653.13 114.8,655.77 114.3,654.89 113.8,656.18 113.3,655.71 112.8,656.8 112.3,656.57 111.8,658.69 111.3,659.03 110.8,659.45 110.3,660.45 109.8,660.35 109.3,664.07 108.8,662.16 108.3,663.61 107.8,663.84 107.3,665 106.8,664.86 106.3,666.29 105.8,667.63 105.3,668.49 104.8,669.36 104.3,670.39 103.8,671.15 103.3,672.67 102.8,673.71 102.3,676.75 101.8,675.79 101.3,675.85 100.8,676.49 100.3,676.43 99.8,677.12 99.3,675.67 98.8,676.78 98.3,676.66 97.8,676.29 97.3,676.03 96.8,676.3 96.3,677.49 95.8,675.74 95.3,675.37 94.8,676 94.3,676.4 93.8,676.01 93.3,675.17 92.8,674.61 92.3,675.16 91.8,675.17 91.3,675.19 90.8,677.02 90.3,675.12 89.8,674.78 89.3,674.69 88.8,675.82 88.3,676.56 87.8,675.74 87.3,674.71 86.8,674.97 86.3,675.23 85.8,673.83 85.3,673.62 84.8,673.72 84.3,674.89 83.8,673.92 83.3,673.43 82.8,673.76 82.3,673.74 81.8,673.45 81.3,673.12 80.8,672.99 80.3,673.53 79.8,672.94 79.3,672.2 78.8,671.55 78.3,672.86 77.8,671.34 77.3,671.16 76.8,672.04 76.3,672.43 75.8,672.75 75.3,671.06 74.8,670.06 74.3,670.43 73.8,669.61 73.3,669.54 72.8,669.69 72.3,669.97 71.8,669.34 71.3,668.6 70.8,668.97 70.3,668.94 69.8,668.8 69.3,667.25 68.8,667.21 68.3,668.17 67.8,666.56 67.3,666.1 66.8,666.67 66.3,665.79 65.8,665.41 65.3,665.53 64.8,665.55 64.3,665.07 63.8,664.18 63.3,663.25 62.8,663.1 62.3,663.37 61.8,662.85 61.3,664.04 60.8,661.89 60.3,660.55 59.8,661.33 59.3,661.91 58.8,659.48 58.3,658.87 57.8,660.08 57.3,658.58 56.8,657.01 56.3,656.1 55.8,655.61 55.3,656.2 54.8,655.39 54.3,655.66 53.8,655.21 53.3,653.89 52.8,653.22 52.3,651.91 51.8,651.5 51.3,651.19 50.8,652.45 50.3,651.92 49.8,652.55 49.3,651.99 48.8,652.5 48.3,651.99 47.8,652.06 47.3,652.86 46.8,654.21 46.3,652.55 45.8,653.64 45.3,653.83 44.8,654.34 44.3,653.59 43.8,653.7 43.3,654.44 42.8,654.74 42.3,654.48 41.8,655.8 41.3,654.72 40.8,655.75" fill="#000" stroke="#000" stroke-width="0.4" stroke-linejoin="round"/>
<polygon points="146.1,644.12 146.6,643.62 147.1,643.11 147.6,643.16 148.1,644.08 148.6,644.16 149.1,645.22 149.6,645.66 150.1,645.55 150.6,643.89 151.1,645.21 151.6,645.36 152.1,645.18 152.6,645.22 153.1,644.76 153.6,644.97 154.1,645.58 154.6,645.37 155.1,645.39 155.6,645.54 156.1,646.02 156.6,645.92 157.1,644.46 157.6,645.07 158.1,645.62 158.6,645.23 159.1,645.25 159.6,643.94 160.1,644.57 160.6,645.99 161.1,646.08 161.6,645.58 162.1,645.82 162.6,645.63 163.1,644.31 163.6,645.05 164.1,644.79 164.6,645.8 165.1,644.39 165.6,645.57 166.1,645.85 166.6,646.01 167.1,645.65 167.6,644.73 168.1,645.61 168.6,645.59 169.1,644.38 169.6,644.79 170.1,644.64 170.6,644.86 171.1,645.68 171.6,646.06 172.1,645.49 172.6,644.77 173.1,645.48 173.6,645.66 174.1,644.46 174.6,645.25 175.1,644.61 175.6,644.67 176.1,645.16 176.6,645.05 177.1,645.23 177.6,645.27 178.1,643.91 178.6,644.98 179.1,643.89 179.6,644.42 180.1,644.32 180.6,644.27 181.1,645.1 181.6,644.72 182.1,644.46 182.6,644.59 183.1,644.47 183.6,643.45 184.1,642.91 184.6,643.18 185.1,643.53 185.6,643.61 186.1,643.49 186.6,644.14 187.1,643.83 187.6,642.92 188.1,643.72 188.6,644.81 189.1,644.02 189.6,644.77 190.1,645.06 190.6,645.02 191.1,644.24 191.6,643.23 192.1,643.52 192.6,643.43 193.1,642.9 193.6,642.63 194.1,642.93 194.6,642.74 195.1,643.78 195.6,643.13 196.1,643.71 196.6,643.74 197.1,644.06 197.6,642.79 198.1,644.23 198.6,643.88 199.1,643.57 199.6,642.59 200.1,643.01 200.6,641.57 201.1,643.1 201.6,643.25 202.1,644.05 202.6,643.29 203.1,642.85 203.6,642.11 204.1,641.91 204.6,642.27 205.1,642.76 205.6,643.16 206.1,642.9 206.6,642.33 207.1,642.59 207.6,642.64 208.1,642.82 208.6,643.06 209.1,642.43 209.6,642.32 210.1,642.04 210.6,642.47 211.1,641.39 211.6,642.41 212.1,641.29 212.6,642.31 213.1,642.15 213.6,641.91 214.1,642.21 214.6,641.9 215.1,641.34 215.6,641.86 216.1,642.12 216.6,640.54 217.1,642.23 217.6,642.01 218.1,642.18 218.6,642.34 219.1,642.04 219.6,641.73 220.1,642.63 220.6,641.43 221.1,641.87 221.6,640.77 222.1,641.26 222.6,641.86 223.1,641.44 223.6,641.41 224.1,641.53 224.6,641.65 225.1,641.59 225.6,642.15 226.1,642.45 226.6,640.4 227.1,641.47 227.6,640.41 228.1,640.26 228.6,641.53 229.1,641.78 229.6,641.69 230.1,642.32 230.6,641.64 230.6,648.16 230.1,646.73 229.6,645.86 229.1,645.94 228.6,645.5 228.1,645.63 227.6,645.49 227.1,646.2 226.6,647.24 226.1,646.41 225.6,646.76 225.1,647.42 224.6,646.33 224.1,647.21 223.6,646 223.1,646.76 222.6,646.14 222.1,646.09 221.6,646.05 221.1,646.91 220.6,646.25 220.1,647.71 219.6,647.76 219.1,647.25 218.6,646.51 218.1,646.26 217.6,646.38 217.1,646.48 216.6,646.9 216.1,646.9 215.6,646.3 215.1,646.36 214.6,646.47 214.1,646.23 213.6,646.49 213.1,647.01 212.6,647.42 212.1,646.35 211.6,647.1 211.1,647.48 210.6,646.54 210.1,646.36 209.6,647.42 209.1,647.13 208.6,647.48 208.1,646.79 207.6,646.92 207.1,646.79 206.6,647.19 206.1,647.55 205.6,647.55 205.1,648.21 204.6,647.32 204.1,646.52 203.6,646.25 203.1,648.54 202.6,648.59 202.1,648.9 201.6,648.41 201.1,647.49 200.6,646.55 200.1,648.39 199.6,647 199.1,647.28 198.6,649.41 198.1,648.31 197.6,649.14 197.1,648.56 196.6,647.69 196.1,647.97 195.6,648.49 195.1,648.37 194.6,647.95 194.1,647.89 193.6,647.47 193.1,647.62 192.6,648.15 192.1,648.37 191.6,648.42 191.1,649.1 190.6,649.23 190.1,649.31 189.6,649.1 189.1,649.05 188.6,648.93 188.1,649.08 187.6,648.33 187.1,648.88 186.6,648.33 186.1,648.06 185.6,648.04 185.1,648.15 184.6,648.29 184.1,648.02 183.6,648.38 183.1,648.5 182.6,649.26 182.1,648.2 181.6,649.06 181.1,649.16 180.6,649.36 180.1,648.9 179.6,650.01 179.1,648.38 178.6,649.73 178.1,650.32 177.6,649.87 177.1,649.25 176.6,649.37 176.1,649.26 175.6,649.29 175.1,649.96 174.6,650.36 174.1,649.29 173.6,650.05 173.1,649.96 172.6,649.65 172.1,650.66 171.6,650.14 171.1,651.56 170.6,650.33 170.1,650.38 169.6,649.39 169.1,649.08 168.6,650.02 168.1,651.27 167.6,651.08 167.1,650.9 166.6,651.14 166.1,650.08 165.6,650.43 165.1,649.78 164.6,650.02 164.1,648.68 163.6,649.68 163.1,649.62 162.6,649.39 162.1,652.37 161.6,649.28 161.1,649.79 160.6,651.26 160.1,649.97 159.6,649.62 159.1,651.31 158.6,649.88 158.1,649.95 157.6,650.22 157.1,649.65 156.6,650.43 156.1,650.69 155.6,650.29 155.1,649.94 154.6,650.43 154.1,649.78 153.6,650.81 153.1,648.98 152.6,649.92 152.1,649.67 151.6,649.6 151.1,649.75 150.6,649.45 150.1,650.09 149.6,649.46 149.1,649.73 148.6,649.55 148.1,649.17 147.6,648.19 147.1,648.44 146.6,648 146.1,648.1" fill="#000" stroke="#000" stroke-width="0.4" stroke-linejoin="round"/>
<polygon points="254,639.9 254.5,640.3 255,640.55 255.5,640.36 256,640.11 256.5,639.98 257,640.07 257.5,640.11 258,641.29 258.5,641 259,641.34 259.5,641.82 260,640.69 260.5,640.47 261,641.19 261.5,641.76 262,640.91 262.5,640.86 263,641 263.5,640.9 264,642.09 264.5,640.69 265,640.09 265.5,640.02 266,641.19 266.5,641.88 267,641.41 267.5,642 268,641.08 268.5,641.9 269,641.33 269.5,641.33 270,641.43 270.5,641.84 271,643.53 271.5,643.15 272,642.84 272.5,642.71 273,641.92 273.5,641.75 274,642.55 274.5,642.25 275,642.07 275.5,642.42 276,641.88 276.5,641.53 277,642.76 277.5,641.44 278,641.91 278.5,642.54 279,642.49 279.5,643.02 280,642.32 280.5,641.17 281,642 281.5,643.6 282,644.08 282.5,642.81 283,641.84 283.5,642.93 284,642.65 284.5,642.16 285,643.44 285.5,643.71 286,641.5 286.5,643.73 287,643.49 287.5,641.45 288,642.25 288.5,642.21 289,642.8 289.5,643.21 290,643.38 290.5,642.45 291,641.72 291.5,641.55 292,642.77 292.5,642.65 293,642.15 293.5,641.85 294,643.03 294.5,642.27 295,642.01 295.5,642.62 296,643.09 296.5,642.55 297,642.91 297.5,641.66 298,641.7 298.5,642.7 299,642.4 299.5,640.91 300,641.85 300.5,641.79 301,640.98 301.5,641.16 302,641.89 302.5,640.13 303,641.56 303.5,640.87 304,641.88 304.5,641.14 305,641.09 305.5,640.73 306,639.75 306.5,640.91 307,642.06 307.5,641.7 308,640.4 308.5,642.03 309,641.97 309.5,642.07 310,642.46 310.5,640.56 311,640.41 311.5,640.52 312,641.2 312.5,641.35 313,640.37 313.5,641.2 314,639.85 314.5,640.36 315,640.26 315.5,641.21 316,640.83 316.5,640.89 317,639.87 317.5,641.05 318,640.9 318.5,641.07 319,640.78 319.5,640.9 320,640.82 320.5,641.36 321,639.91 321.5,639.8 322,639.36 322.5,639.58 323,640.88 323.5,640.96 324,639.28 324.5,639.84 325,639.16 325.5,638.27 326,639.17 326.5,638.26 327,640.37 327.5,639.67 328,639.17 328.5,638.74 329,638.88 329.5,639.8 330,638.77 330.5,638.96 331,640.01 331.5,639.49 332,640.08 332.5,639.41 333,637.72 333.5,637.17 334,638 334.5,638.58 335,639.42 335.5,638.7 336,638.38 336.5,638.78 337,638.99 337.5,639.07 338,639.77 338.5,637.6 338.5,646.57 338,645.34 337.5,644.47 337,644.88 336.5,644.3 336,644.83 335.5,646.63 335,645.27 334.5,645.81 334,646.72 333.5,644.2 333,644.43 332.5,644.88 332,645.48 331.5,645.9 331,647.07 330.5,647.17 330,646.49 329.5,646.04 329,645.26 328.5,646 328,645.4 327.5,645.41 327,645.65 326.5,645.2 326,644.43 325.5,644.89 325,644.76 324.5,645.99 324,646.23 323.5,647.34 323,646.6 322.5,645.82 322,646.97 321.5,646.32 321,647.54 320.5,646.8 320,646.89 319.5,646.44 319,647.11 318.5,647.37 318,647.45 317.5,646.13 317,645.63 316.5,647.35 316,646.62 315.5,647.03 315,647.44 314.5,647.18 314,645.77 313.5,647.6 313,646.88 312.5,647.01 312,647.7 311.5,646.25 311,647.1 310.5,648.01 310,648.22 309.5,647.7 309,648.09 308.5,647.47 308,647.59 307.5,649.68 307,647.85 306.5,647.87 306,648.2 305.5,647.99 305,647.79 304.5,648.83 304,648.06 303.5,647.11 303,647.59 302.5,646.79 302,647.84 301.5,648.21 301,647.88 300.5,648.64 300,649.53 299.5,647.94 299,647.97 298.5,648.57 298,648.79 297.5,647.99 297,648.88 296.5,648.27 296,648.46 295.5,648.95 295,647.57 294.5,648.76 294,649.06 293.5,648.84 293,648.3 292.5,648.36 292,649.72 291.5,648.14 291,649.04 290.5,650.33 290,649.09 289.5,649.96 289,649.3 288.5,649.07 288,648.54 287.5,648.09 287,649.3 286.5,649.01 286,648.8 285.5,650.16 285,649.43 284.5,649.59 284,649 283.5,650.81 283,648.5 282.5,648.78 282,649.45 281.5,649.18 281,649.02 280.5,647.54 280,650.01 279.5,648.58 279,648.35 278.5,648.16 278,648.01 277.5,647.71 277,647.89 276.5,648.61 276,648.56 275.5,648.19 275,648.35 274.5,648.69 274,649.01 273.5,647.78 273,647.98 272.5,648.55 272,649.46 271.5,649.5 271,649.14 270.5,647.39 270,647.76 269.5,648.05 269,648 268.5,647.94 268,647.59 267.5,648.51 267,649.37 266.5,648.9 266,647.77 265.5,647.5 265,647.05 264.5,646.3 264,647.76 263.5,647.65 263,646.95 262.5,647.33 262,647.62 261.5,648.12 261,647.73 260.5,647.38 260,648.53 259.5,647.41 259,647.34 258.5,647.63 258,646.87 257.5,647.12 257,647.12 256.5,645.77 256,646.68 255.5,646.1 255,646.11 254.5,646.15 254,646.97" fill="#b00000" stroke="#b00000" stroke-width="0.4" stroke-linejoin="round"/>
<polyline points="254.5,662 254.5,676.4 282.1,676.4" stroke="#222" stroke-width="1.4" fill="none"/>
<text x="226" y="673.2" font-size="9.3" text-anchor="start" fill="#222" font-style="italic">20 pA</text>
<text x="256.3" y="688.2" font-size="9.3" text-anchor="start" fill="#222" font-style="italic">100 s</text>
<line x1="433.7" y1="573.9" x2="433.7" y2="687.9" stroke="#000" stroke-width="1.8"/>
<line x1="427.7" y1="589.3" x2="433.7" y2="589.3" stroke="#000" stroke-width="1.8"/>
<text x="0" y="0" font-size="12.3" text-anchor="end" fill="#000" transform="translate(426.7 593.92) scale(1 1.057)">0</text>
<line x1="427.7" y1="619.42" x2="433.7" y2="619.42" stroke="#000" stroke-width="1.8"/>
<text x="0" y="0" font-size="12.3" text-anchor="end" fill="#000" transform="translate(426.7 624.04) scale(1 1.057)">-20</text>
<line x1="427.7" y1="649.54" x2="433.7" y2="649.54" stroke="#000" stroke-width="1.8"/>
<text x="0" y="0" font-size="12.3" text-anchor="end" fill="#000" transform="translate(426.7 654.16) scale(1 1.057)">-40</text>
<line x1="427.7" y1="679.66" x2="433.7" y2="679.66" stroke="#000" stroke-width="1.8"/>
<text x="0" y="0" font-size="12.3" text-anchor="end" fill="#000" transform="translate(426.7 684.28) scale(1 1.057)">-60</text>
<line x1="430" y1="574.24" x2="433.7" y2="574.24" stroke="#000" stroke-width="1.8"/>
<line x1="430" y1="604.36" x2="433.7" y2="604.36" stroke="#000" stroke-width="1.8"/>
<line x1="430" y1="634.48" x2="433.7" y2="634.48" stroke="#000" stroke-width="1.8"/>
<line x1="430" y1="664.6" x2="433.7" y2="664.6" stroke="#000" stroke-width="1.8"/>
<line x1="432.8" y1="687" x2="490.6" y2="687" stroke="#000" stroke-width="1.8"/>
<line x1="433.7" y1="589.3" x2="489.8" y2="589.3" stroke="#000" stroke-width="1.8"/>
<line x1="449.6" y1="687" x2="449.6" y2="693" stroke="#000" stroke-width="1.8"/>
<line x1="473.6" y1="687" x2="473.6" y2="693" stroke="#000" stroke-width="1.8"/>
<rect x="442.6" y="589.3" width="14.8" height="37" fill="#fff" stroke="#000" stroke-width="1.8"/>
<rect x="467.1" y="589.3" width="13.7" height="6.5" fill="#fff" stroke="#000" stroke-width="1.8"/>
<line x1="449.8" y1="620.1" x2="449.8" y2="630.6" stroke="#999" stroke-width="1.3"/>
<line x1="447.2" y1="620.1" x2="452.4" y2="620.1" stroke="#999" stroke-width="1.3"/>
<line x1="447.2" y1="630.6" x2="452.4" y2="630.6" stroke="#999" stroke-width="1.3"/>
<line x1="473.6" y1="592.1" x2="473.6" y2="600.6" stroke="#999" stroke-width="1.3"/>
<line x1="471" y1="592.1" x2="476.2" y2="592.1" stroke="#999" stroke-width="1.3"/>
<line x1="471" y1="600.6" x2="476.2" y2="600.6" stroke="#999" stroke-width="1.3"/>
<circle cx="449.8" cy="605.4" r="2.75" fill="#000" stroke="none" stroke-width="0.8"/>
<circle cx="449.8" cy="617.5" r="2.75" fill="#000" stroke="none" stroke-width="0.8"/>
<circle cx="454.1" cy="616.9" r="2.75" fill="#000" stroke="none" stroke-width="0.8"/>
<circle cx="445" cy="622.1" r="2.75" fill="#000" stroke="none" stroke-width="0.8"/>
<circle cx="445.5" cy="625.5" r="2.75" fill="#000" stroke="none" stroke-width="0.8"/>
<circle cx="445" cy="629.3" r="2.75" fill="#000" stroke="none" stroke-width="0.8"/>
<circle cx="449.8" cy="631.2" r="2.75" fill="#000" stroke="none" stroke-width="0.8"/>
<circle cx="454.1" cy="632.8" r="2.75" fill="#000" stroke="none" stroke-width="0.8"/>
<circle cx="449.8" cy="648.4" r="2.75" fill="#000" stroke="none" stroke-width="0.8"/>
<circle cx="447.6" cy="627.3" r="2.75" fill="#000" stroke="none" stroke-width="0.8"/>
<rect x="470.7" y="584" width="5.8" height="5.8" fill="#000"/>
<rect x="466.2" y="586.4" width="5.8" height="5.8" fill="#000"/>
<rect x="466.2" y="589.2" width="5.8" height="5.8" fill="#000"/>
<rect x="472.7" y="588.1" width="5.8" height="5.8" fill="#000"/>
<rect x="466.2" y="597.3" width="5.8" height="5.8" fill="#000"/>
<rect x="475.3" y="594.5" width="5.8" height="5.8" fill="#000"/>
<rect x="474.6" y="604.2" width="5.8" height="5.8" fill="#000"/>
<rect x="469.4" y="593.1" width="5.8" height="5.8" fill="#000"/>
<rect x="475.6" y="591.6" width="5.8" height="5.8" fill="#000"/>
<polyline points="448.6,666.4 448.6,672.9 477.9,672.9 477.9,631" stroke="#000" stroke-width="1.5" fill="none"/>
<path d="M455.8,661.7 L455.8,666.7 M453.63,662.95 L457.97,665.45 M453.63,665.45 L457.97,662.95" stroke="#000" stroke-width="1.35" stroke-linecap="round" fill="none"/>
<circle cx="455.8" cy="664.2" r="1.12" fill="#000" stroke="none" stroke-width="0.8"/>
<path d="M463.25,661.7 L463.25,666.7 M461.08,662.95 L465.42,665.45 M461.08,665.45 L465.42,662.95" stroke="#000" stroke-width="1.35" stroke-linecap="round" fill="none"/>
<circle cx="463.25" cy="664.2" r="1.12" fill="#000" stroke="none" stroke-width="0.8"/>
<path d="M470.7,661.7 L470.7,666.7 M468.53,662.95 L472.87,665.45 M468.53,665.45 L472.87,662.95" stroke="#000" stroke-width="1.35" stroke-linecap="round" fill="none"/>
<circle cx="470.7" cy="664.2" r="1.12" fill="#000" stroke="none" stroke-width="0.8"/>
<text x="381.7" y="629.6" font-size="14.2" text-anchor="middle" fill="#000" transform="rotate(-90 381.7 629.6)">tonic GABA<tspan font-size="9.8" dy="3">B</tspan></text>
<text x="401.2" y="629.6" font-size="13.9" text-anchor="middle" fill="#000" transform="rotate(-90 401.2 629.6)" textLength="72.5" lengthAdjust="spacingAndGlyphs">current (pA)</text>
<line x1="574.6" y1="576.8" x2="574.6" y2="690.5" stroke="#000" stroke-width="1.8"/>
<line x1="568.6" y1="592.2" x2="574.6" y2="592.2" stroke="#000" stroke-width="1.8"/>
<text x="0" y="0" font-size="12.3" text-anchor="end" fill="#000" transform="translate(567.6 596.82) scale(1 1.057)">0</text>
<line x1="568.6" y1="622.32" x2="574.6" y2="622.32" stroke="#000" stroke-width="1.8"/>
<text x="0" y="0" font-size="12.3" text-anchor="end" fill="#000" transform="translate(567.6 626.94) scale(1 1.057)">-20</text>
<line x1="568.6" y1="652.44" x2="574.6" y2="652.44" stroke="#000" stroke-width="1.8"/>
<text x="0" y="0" font-size="12.3" text-anchor="end" fill="#000" transform="translate(567.6 657.06) scale(1 1.057)">-40</text>
<line x1="568.6" y1="682.56" x2="574.6" y2="682.56" stroke="#000" stroke-width="1.8"/>
<text x="0" y="0" font-size="12.3" text-anchor="end" fill="#000" transform="translate(567.6 687.18) scale(1 1.057)">-60</text>
<line x1="570.9" y1="577.14" x2="574.6" y2="577.14" stroke="#000" stroke-width="1.8"/>
<line x1="570.9" y1="607.26" x2="574.6" y2="607.26" stroke="#000" stroke-width="1.8"/>
<line x1="570.9" y1="637.38" x2="574.6" y2="637.38" stroke="#000" stroke-width="1.8"/>
<line x1="570.9" y1="667.5" x2="574.6" y2="667.5" stroke="#000" stroke-width="1.8"/>
<line x1="573.7" y1="689.6" x2="631.2" y2="689.6" stroke="#000" stroke-width="1.8"/>
<line x1="574.6" y1="592.2" x2="630.4" y2="592.2" stroke="#000" stroke-width="1.8"/>
<line x1="590.2" y1="689.6" x2="590.2" y2="697.6" stroke="#000" stroke-width="1.8"/>
<line x1="614.3" y1="689.6" x2="614.3" y2="697.6" stroke="#000" stroke-width="1.8"/>
<rect x="582.8" y="592.2" width="14.8" height="29.3" fill="#fff" stroke="#000" stroke-width="1.8"/>
<rect x="607.1" y="592.2" width="15" height="14.3" fill="#fff" stroke="#000" stroke-width="1.8"/>
<line x1="590.2" y1="614.5" x2="590.2" y2="625" stroke="#999" stroke-width="1.3"/>
<line x1="587.6" y1="614.5" x2="592.8" y2="614.5" stroke="#999" stroke-width="1.3"/>
<line x1="587.6" y1="625" x2="592.8" y2="625" stroke="#999" stroke-width="1.3"/>
<line x1="614.3" y1="599.5" x2="614.3" y2="612" stroke="#999" stroke-width="1.3"/>
<line x1="611.7" y1="599.5" x2="616.9" y2="599.5" stroke="#999" stroke-width="1.3"/>
<line x1="611.7" y1="612" x2="616.9" y2="612" stroke="#999" stroke-width="1.3"/>
<circle cx="588.2" cy="604.1" r="2.75" fill="#000" stroke="none" stroke-width="0.8"/>
<circle cx="590.2" cy="607.1" r="2.75" fill="#000" stroke="none" stroke-width="0.8"/>
<circle cx="592.1" cy="608.4" r="2.75" fill="#000" stroke="none" stroke-width="0.8"/>
<circle cx="586.9" cy="609.7" r="2.75" fill="#000" stroke="none" stroke-width="0.8"/>
<circle cx="589.5" cy="611.7" r="2.75" fill="#000" stroke="none" stroke-width="0.8"/>
<circle cx="592.8" cy="613" r="2.75" fill="#000" stroke="none" stroke-width="0.8"/>
<circle cx="588" cy="614" r="2.75" fill="#000" stroke="none" stroke-width="0.8"/>
<circle cx="591" cy="615.5" r="2.75" fill="#000" stroke="none" stroke-width="0.8"/>
<circle cx="595.4" cy="621.8" r="2.75" fill="#000" stroke="none" stroke-width="0.8"/>
<circle cx="586.3" cy="625.4" r="2.75" fill="#000" stroke="none" stroke-width="0.8"/>
<circle cx="588.9" cy="636.4" r="2.75" fill="#000" stroke="none" stroke-width="0.8"/>
<circle cx="590.8" cy="639" r="2.75" fill="#000" stroke="none" stroke-width="0.8"/>
<circle cx="590.2" cy="648.4" r="2.75" fill="#000" stroke="none" stroke-width="0.8"/>
<circle cx="588" cy="622" r="2.75" fill="#000" stroke="none" stroke-width="0.8"/>
<circle cx="611.7" cy="592.8" r="2.7" fill="#a00000" stroke="#200" stroke-width="0.8"/>
<circle cx="616.9" cy="594.7" r="2.7" fill="#a00000" stroke="#200" stroke-width="0.8"/>
<circle cx="613" cy="598" r="2.7" fill="#a00000" stroke="#200" stroke-width="0.8"/>
<circle cx="616" cy="600" r="2.7" fill="#a00000" stroke="#200" stroke-width="0.8"/>
<circle cx="611.7" cy="602" r="2.7" fill="#a00000" stroke="#200" stroke-width="0.8"/>
<circle cx="615.5" cy="604" r="2.7" fill="#a00000" stroke="#200" stroke-width="0.8"/>
<circle cx="617.5" cy="607.1" r="2.7" fill="#a00000" stroke="#200" stroke-width="0.8"/>
<circle cx="614.5" cy="610" r="2.7" fill="#a00000" stroke="#200" stroke-width="0.8"/>
<circle cx="609.1" cy="613" r="2.7" fill="#a00000" stroke="#200" stroke-width="0.8"/>
<circle cx="611.7" cy="614.9" r="2.7" fill="#a00000" stroke="#200" stroke-width="0.8"/>
<circle cx="614.5" cy="615" r="2.7" fill="#a00000" stroke="#200" stroke-width="0.8"/>
<circle cx="618.2" cy="619.5" r="2.7" fill="#a00000" stroke="#200" stroke-width="0.8"/>
<polyline points="590.8,672.9 590.8,679.4 614.5,679.4 614.5,632.3" stroke="#000" stroke-width="1.5" fill="none"/>
<path d="M595.75,668.5 L595.75,673.5 M593.59,669.75 L597.91,672.25 M593.59,672.25 L597.91,669.75" stroke="#000" stroke-width="1.35" stroke-linecap="round" fill="none"/>
<circle cx="595.75" cy="671" r="1.12" fill="#000" stroke="none" stroke-width="0.8"/>
<path d="M603.2,668.5 L603.2,673.5 M601.04,669.75 L605.37,672.25 M601.04,672.25 L605.37,669.75" stroke="#000" stroke-width="1.35" stroke-linecap="round" fill="none"/>
<circle cx="603.2" cy="671" r="1.12" fill="#000" stroke="none" stroke-width="0.8"/>
<path d="M610.65,668.5 L610.65,673.5 M608.49,669.75 L612.82,672.25 M608.49,672.25 L612.82,669.75" stroke="#000" stroke-width="1.35" stroke-linecap="round" fill="none"/>
<circle cx="610.65" cy="671" r="1.12" fill="#000" stroke="none" stroke-width="0.8"/>
<text x="522.8" y="633.2" font-size="14.2" text-anchor="middle" fill="#000" transform="rotate(-90 522.8 633.2)">tonic GABA<tspan font-size="9.8" dy="3">B</tspan></text>
<text x="541.9" y="633.2" font-size="13.9" text-anchor="middle" fill="#000" transform="rotate(-90 541.9 633.2)" textLength="72.5" lengthAdjust="spacingAndGlyphs">current (pA)</text>
<text x="453.2" y="705" font-size="13" text-anchor="end" fill="#000" transform="rotate(-45 453.2 705)">control</text>
<text x="477.1" y="705.3" font-size="13" text-anchor="end" fill="#000" transform="rotate(-45 477.1 705.3)">GDP-&#946;-S</text>
<text x="594.6" y="709.5" font-size="13.8" text-anchor="end" fill="#000" transform="rotate(-45 594.6 709.5)">control</text>
<text x="618.6" y="709.5" font-size="13.8" text-anchor="end" fill="#000" transform="rotate(-45 618.6 709.5)">CRS</text>
<text x="0" y="0" font-size="29.56" font-weight="bold" transform="translate(0.8 746.8) scale(0.771 1)">F</text>
<text x="57.4" y="740.2" font-size="16.1" text-anchor="start" fill="#000" font-style="italic">control</text>
<text x="155.2" y="740.7" font-size="16.1" text-anchor="start" fill="#000" font-style="italic">control CGP</text>
<text x="46.2" y="867.7" font-size="15.8" text-anchor="start" fill="#c40010" font-style="italic">CRS CGP</text>
<text x="155.2" y="868.5" font-size="16.1" text-anchor="start" fill="#000" font-style="italic" textLength="102.5" lengthAdjust="spacingAndGlyphs">GDP-&#946;-S CGP</text>
<path d="M46.2,820.3 L55.7,820.3 C55.9,820.3 56.3,807.4 56.9,804.4 L56.4,749.1 L56.7,801.4 Q56.9,805 57.4,805 L58.4,755.5 L58.7,801.4 Q58.9,805 59.4,805 C60.2,804.58 60.8,801.9 61.15,799.4 L61.4,756.7 L61.7,801.4 Q61.9,805 62.4,805 C63.16,804.58 63.7,801.9 64.05,799.4 L64.3,755.3 L64.6,801.4 Q64.8,805 65.3,805 C66.42,804.58 67.5,801.9 67.85,799.4 L68.1,755.3 L68.4,801.4 Q68.6,805 69.1,805 C70.42,804.58 71.8,801.9 72.15,799.4 L72.4,756.1 L72.7,801.4 Q72.9,805 73.4,805 C75.04,804.58 76.9,801.9 77.25,799.4 L77.5,755.3 L77.8,801.4 Q78,805 78.5,805 C80.42,804.58 82.7,801.9 83.05,799.4 L83.3,756.7 L83.6,801.4 Q83.8,805 84.3,805 C85.94,804.58 87.8,801.9 88.15,799.4 L88.4,756.1 L88.7,801.4 Q88.9,805 89.4,805 C91.16,804.58 93.2,801.9 93.55,799.4 L93.8,756.1 L94.1,801.4 Q94.3,805 94.8,805 C96.6,804.58 98.7,801.9 99.05,799.4 L99.3,756.1 L99.6,801.4 Q99.8,805 100.3,805 C102.1,804.58 104.2,801.9 104.55,799.4 L104.8,756.4 L105.1,801.4 Q105.3,805 105.8,805 C109.04,804.58 113.3,801.9 113.65,799.4 L113.9,757.3 L114.2,801.4 Q114.4,805 114.9,805 C117.3,804.58 120.3,801.9 120.65,799.4 L120.9,756.7 L121.2,801.4 Q121.4,805 121.9,805 C122.4,808.4 122.8,819.3 126.1,820.3 L147.2,820.3" fill="none" stroke="#000" stroke-width="1.1" stroke-linejoin="round"/>
<path d="M157,820.9 L166.5,820.9 C166.7,820.9 167.1,802.4 167.7,799.4 L166.8,749.1 L167.1,797.6 Q167.3,799.9 167.8,799.9 L168.1,755.26 L168.4,797.6 Q168.6,799.9 169.1,799.9 L169.6,755.33 L169.9,797.6 Q170.1,799.9 170.6,799.9 L171.2,755.39 L171.5,797.6 Q171.7,799.9 172.2,799.9 C172.68,799.55 172.8,797.9 173.15,796.4 L173.4,755.46 L173.7,797.6 Q173.9,799.9 174.4,799.9 C175.12,799.55 175.6,797.9 175.95,796.4 L176.2,755.52 L176.5,797.6 Q176.7,799.9 177.2,799.9 C177.79,799.55 178.09,797.9 178.44,796.4 L178.69,755.59 L178.99,797.6 Q179.19,799.9 179.69,799.9 C180.28,799.55 180.57,797.9 180.92,796.4 L181.17,755.65 L181.47,797.6 Q181.67,799.9 182.17,799.9 C182.77,799.55 183.06,797.9 183.41,796.4 L183.66,755.71 L183.96,797.6 Q184.16,799.9 184.66,799.9 C185.26,799.55 185.55,797.9 185.9,796.4 L186.15,755.78 L186.45,797.6 Q186.65,799.9 187.15,799.9 C187.74,799.55 188.03,797.9 188.38,796.4 L188.63,755.84 L188.94,797.6 Q189.13,799.9 189.63,799.9 C190.23,799.55 190.52,797.9 190.87,796.4 L191.12,755.91 L191.42,797.6 Q191.62,799.9 192.12,799.9 C192.72,799.55 193.01,797.9 193.36,796.4 L193.61,755.97 L193.91,797.6 Q194.11,799.9 194.61,799.9 C195.2,799.55 195.5,797.9 195.85,796.4 L196.1,756.04 L196.4,797.6 Q196.6,799.9 197.1,799.9 C197.69,799.55 197.98,797.9 198.33,796.4 L198.58,756.1 L198.88,797.6 Q199.08,799.9 199.58,799.9 C200.18,799.55 200.47,797.9 200.82,796.4 L201.07,756.16 L201.37,797.6 Q201.57,799.9 202.07,799.9 C202.66,799.55 202.96,797.9 203.31,796.4 L203.56,756.23 L203.86,797.6 Q204.06,799.9 204.56,799.9 C205.15,799.55 205.44,797.9 205.79,796.4 L206.04,756.29 L206.34,797.6 Q206.54,799.9 207.04,799.9 C207.64,799.55 207.93,797.9 208.28,796.4 L208.53,756.36 L208.83,797.6 Q209.03,799.9 209.53,799.9 C210.13,799.55 210.42,797.9 210.77,796.4 L211.02,756.42 L211.32,797.6 Q211.52,799.9 212.02,799.9 C212.61,799.55 212.91,797.9 213.25,796.4 L213.5,756.49 L213.81,797.6 Q214,799.9 214.5,799.9 C215.1,799.55 215.39,797.9 215.74,796.4 L215.99,756.55 L216.29,797.6 Q216.49,799.9 216.99,799.9 C217.59,799.55 217.88,797.9 218.23,796.4 L218.48,756.61 L218.78,797.6 Q218.98,799.9 219.48,799.9 C220.07,799.55 220.37,797.9 220.72,796.4 L220.97,756.68 L221.27,797.6 Q221.47,799.9 221.97,799.9 C222.56,799.55 222.85,797.9 223.2,796.4 L223.45,756.74 L223.75,797.6 Q223.95,799.9 224.45,799.9 C225.05,799.55 225.34,797.9 225.69,796.4 L225.94,756.81 L226.24,797.6 Q226.44,799.9 226.94,799.9 C227.53,799.55 227.83,797.9 228.18,796.4 L228.43,756.87 L228.73,797.6 Q228.93,799.9 229.43,799.9 C230.02,799.55 230.31,797.9 230.66,796.4 L230.91,756.94 L231.21,797.6 Q231.41,799.9 231.91,799.9 C232.43,799.55 232.7,797.9 233.2,797.3 C234,803.4 234.4,819.9 237.7,820.9 L257.2,820.9" fill="none" stroke="#9a9a9a" stroke-width="0.95" stroke-linejoin="round"/>
<path d="M39.8,946.3 L48.7,946.3 C48.9,946.3 49.3,920.4 49.9,917.4 L49.4,879.2 L49.7,915.6 Q49.9,917.9 50.4,917.9 L51.2,879.2 L51.5,915.6 Q51.7,917.9 52.2,917.9 L53.3,878 L53.6,915.6 Q53.8,917.9 54.3,917.9 C54.78,917.55 54.9,915.9 55.25,914.4 L55.5,878 L55.8,915.6 Q56,917.9 56.5,917.9 C57.22,917.55 57.7,915.9 58.05,914.4 L58.3,878 L58.6,915.6 Q58.8,917.9 59.3,917.9 C60.02,917.55 60.5,915.9 60.85,914.4 L61.1,878 L61.4,915.6 Q61.6,917.9 62.1,917.9 C62.9,917.55 63.5,915.9 63.85,914.4 L64.1,878 L64.4,915.6 Q64.6,917.9 65.1,917.9 C65.86,917.55 66.4,915.9 66.75,914.4 L67,878 L67.3,915.6 Q67.5,917.9 68,917.9 C68.92,917.55 69.7,915.9 70.05,914.4 L70.3,878 L70.6,915.6 Q70.8,917.9 71.3,917.9 C72.18,917.55 72.9,915.9 73.25,914.4 L73.5,878 L73.8,915.6 Q74,917.9 74.5,917.9 C75.55,917.55 76.53,915.9 76.88,914.4 L77.13,878 L77.43,915.6 Q77.63,917.9 78.13,917.9 C79.18,917.55 80.15,915.9 80.5,914.4 L80.75,878 L81.05,915.6 Q81.25,917.9 81.75,917.9 C82.8,917.55 83.78,915.9 84.13,914.4 L84.38,878 L84.68,915.6 Q84.88,917.9 85.38,917.9 C86.43,917.55 87.41,915.9 87.76,914.4 L88.01,878 L88.31,915.6 Q88.51,917.9 89.01,917.9 C90.06,917.55 91.03,915.9 91.38,914.4 L91.63,878 L91.93,915.6 Q92.13,917.9 92.63,917.9 C93.69,917.55 94.66,915.9 95.01,914.4 L95.26,878 L95.56,915.6 Q95.76,917.9 96.26,917.9 C97.31,917.55 98.29,915.9 98.64,914.4 L98.89,878 L99.19,915.6 Q99.39,917.9 99.89,917.9 C100.94,917.55 101.92,915.9 102.27,914.4 L102.52,878 L102.82,915.6 Q103.02,917.9 103.52,917.9 C104.57,917.55 105.54,915.9 105.89,914.4 L106.14,878 L106.44,915.6 Q106.64,917.9 107.14,917.9 C108.19,917.55 109.17,915.9 109.52,914.4 L109.77,878 L110.07,915.6 Q110.27,917.9 110.77,917.9 C111.82,917.55 112.8,915.9 113.15,914.4 L113.4,878 L113.7,915.6 Q113.9,917.9 114.4,917.9 C115.3,921.4 115.7,945.3 119.5,946.3 L139.4,946.3" fill="none" stroke="#b00000" stroke-width="1.1" stroke-linejoin="round"/>
<path d="M153.9,944.7 L160.5,944.7 C160.7,944.7 161.1,927.6 161.7,924.6 L162.5,879.5 L162.8,921 Q163,925.1 163.5,925.1 L164.4,879.5 L164.7,921 Q164.9,925.1 165.4,925.1 C166.8,924.75 168.3,921.6 168.65,918.6 L168.9,879.5 L169.2,921 Q169.4,925.1 169.9,925.1 C171.44,924.75 173.15,921.6 173.5,918.6 L173.75,879.5 L174.05,921 Q174.25,925.1 174.75,925.1 C176.25,924.75 177.9,921.6 178.25,918.6 L178.5,879.5 L178.8,921 Q179,925.1 179.5,925.1 C181.1,924.75 182.9,921.6 183.25,918.6 L183.5,879.5 L183.8,921 Q184,925.1 184.5,925.1 C186.66,924.75 189.3,921.6 189.65,918.6 L189.9,879.5 L190.2,921 Q190.4,925.1 190.9,925.1 C193.1,924.75 195.8,921.6 196.15,918.6 L196.4,879.5 L196.7,921 Q196.9,925.1 197.4,925.1 C199.48,924.75 202,921.6 202.35,918.6 L202.6,879.5 L202.9,921 Q203.1,925.1 203.6,925.1 C206,924.75 209,921.6 209.35,918.6 L209.6,879.5 L209.9,921 Q210.1,925.1 210.6,925.1 C212.64,924.75 215.1,921.6 215.45,918.6 L215.7,879.5 L216,921 Q216.2,925.1 216.7,925.1 C218.74,924.75 221.2,921.6 221.55,918.6 L221.8,879.5 L222.1,921 Q222.3,925.1 222.8,925.1 C225.08,924.75 227.9,921.6 228.25,918.6 L228.5,879.5 L228.8,921 Q229,925.1 229.5,925.1 C230.98,924.75 232.7,921.6 233.2,920.4 C234,928.6 234.4,943.7 238.2,944.7 L251.6,944.7" fill="none" stroke="#909090" stroke-width="1" stroke-linejoin="round"/>
<polyline points="36.7,805.1 36.7,834.6 70.1,834.6" stroke="#000" stroke-width="1.3" fill="none"/>
<text x="7.5" y="824.5" font-size="8.6" text-anchor="start" fill="#222">50 mV</text>
<text x="39" y="846.3" font-size="8.6" text-anchor="start" fill="#222">500 ms</text>
<line x1="336.9" y1="786" x2="336.9" y2="899.3" stroke="#000" stroke-width="1.8"/>
<line x1="330.9" y1="785.99" x2="336.9" y2="785.99" stroke="#000" stroke-width="1.8"/>
<text x="0" y="0" font-size="11.9" text-anchor="end" fill="#000" transform="translate(329.4 790.23) scale(1 1.075)">30</text>
<line x1="330.9" y1="823.46" x2="336.9" y2="823.46" stroke="#000" stroke-width="1.8"/>
<text x="0" y="0" font-size="11.9" text-anchor="end" fill="#000" transform="translate(329.4 827.7) scale(1 1.075)">20</text>
<line x1="330.9" y1="860.93" x2="336.9" y2="860.93" stroke="#000" stroke-width="1.8"/>
<text x="0" y="0" font-size="11.9" text-anchor="end" fill="#000" transform="translate(329.4 865.17) scale(1 1.075)">10</text>
<line x1="330.9" y1="898.4" x2="336.9" y2="898.4" stroke="#000" stroke-width="1.8"/>
<text x="0" y="0" font-size="11.9" text-anchor="end" fill="#000" transform="translate(329.4 902.64) scale(1 1.075)">0</text>
<line x1="336" y1="898.4" x2="393.9" y2="898.4" stroke="#000" stroke-width="1.8"/>
<line x1="336.9" y1="898.4" x2="336.9" y2="903.9" stroke="#000" stroke-width="1.8"/>
<line x1="357.95" y1="898.4" x2="357.95" y2="903.9" stroke="#000" stroke-width="1.8"/>
<line x1="379" y1="898.4" x2="379" y2="903.9" stroke="#000" stroke-width="1.8"/>
<text x="364.9" y="947" font-size="13.3" text-anchor="middle" fill="#000">pA</text>
<text x="308.6" y="841.8" font-size="14" text-anchor="middle" fill="#000" transform="rotate(-90 308.6 841.8)" textLength="79.4" lengthAdjust="spacingAndGlyphs">AP freq. (Hz)</text>
<line x1="341.11" y1="878.92" x2="341.11" y2="884.91" stroke="#999" stroke-width="1.2"/>
<line x1="338.71" y1="878.92" x2="343.51" y2="878.92" stroke="#999" stroke-width="1.2"/>
<line x1="338.71" y1="884.91" x2="343.51" y2="884.91" stroke="#999" stroke-width="1.2"/>
<line x1="345.32" y1="866.18" x2="345.32" y2="872.92" stroke="#999" stroke-width="1.2"/>
<line x1="342.92" y1="866.18" x2="347.72" y2="866.18" stroke="#999" stroke-width="1.2"/>
<line x1="342.92" y1="872.92" x2="347.72" y2="872.92" stroke="#999" stroke-width="1.2"/>
<line x1="349.53" y1="856.43" x2="349.53" y2="863.93" stroke="#999" stroke-width="1.2"/>
<line x1="347.13" y1="856.43" x2="351.93" y2="856.43" stroke="#999" stroke-width="1.2"/>
<line x1="347.13" y1="863.93" x2="351.93" y2="863.93" stroke="#999" stroke-width="1.2"/>
<line x1="353.74" y1="845.94" x2="353.74" y2="853.44" stroke="#999" stroke-width="1.2"/>
<line x1="351.34" y1="845.94" x2="356.14" y2="845.94" stroke="#999" stroke-width="1.2"/>
<line x1="351.34" y1="853.44" x2="356.14" y2="853.44" stroke="#999" stroke-width="1.2"/>
<line x1="357.95" y1="838.07" x2="357.95" y2="845.57" stroke="#999" stroke-width="1.2"/>
<line x1="355.55" y1="838.07" x2="360.35" y2="838.07" stroke="#999" stroke-width="1.2"/>
<line x1="355.55" y1="845.57" x2="360.35" y2="845.57" stroke="#999" stroke-width="1.2"/>
<line x1="362.16" y1="831.7" x2="362.16" y2="839.95" stroke="#999" stroke-width="1.2"/>
<line x1="359.76" y1="831.7" x2="364.56" y2="831.7" stroke="#999" stroke-width="1.2"/>
<line x1="359.76" y1="839.95" x2="364.56" y2="839.95" stroke="#999" stroke-width="1.2"/>
<line x1="366.37" y1="825.71" x2="366.37" y2="833.95" stroke="#999" stroke-width="1.2"/>
<line x1="363.97" y1="825.71" x2="368.77" y2="825.71" stroke="#999" stroke-width="1.2"/>
<line x1="363.97" y1="833.95" x2="368.77" y2="833.95" stroke="#999" stroke-width="1.2"/>
<line x1="370.58" y1="819.34" x2="370.58" y2="828.33" stroke="#999" stroke-width="1.2"/>
<line x1="368.18" y1="819.34" x2="372.98" y2="819.34" stroke="#999" stroke-width="1.2"/>
<line x1="368.18" y1="828.33" x2="372.98" y2="828.33" stroke="#999" stroke-width="1.2"/>
<line x1="374.79" y1="812.97" x2="374.79" y2="822.71" stroke="#999" stroke-width="1.2"/>
<line x1="372.39" y1="812.97" x2="377.19" y2="812.97" stroke="#999" stroke-width="1.2"/>
<line x1="372.39" y1="822.71" x2="377.19" y2="822.71" stroke="#999" stroke-width="1.2"/>
<line x1="379" y1="810.35" x2="379" y2="820.09" stroke="#999" stroke-width="1.2"/>
<line x1="376.6" y1="810.35" x2="381.4" y2="810.35" stroke="#999" stroke-width="1.2"/>
<line x1="376.6" y1="820.09" x2="381.4" y2="820.09" stroke="#999" stroke-width="1.2"/>
<line x1="383.21" y1="805.47" x2="383.21" y2="815.97" stroke="#999" stroke-width="1.2"/>
<line x1="380.81" y1="805.47" x2="385.61" y2="805.47" stroke="#999" stroke-width="1.2"/>
<line x1="380.81" y1="815.97" x2="385.61" y2="815.97" stroke="#999" stroke-width="1.2"/>
<line x1="387.42" y1="802.1" x2="387.42" y2="813.34" stroke="#999" stroke-width="1.2"/>
<line x1="385.02" y1="802.1" x2="389.82" y2="802.1" stroke="#999" stroke-width="1.2"/>
<line x1="385.02" y1="813.34" x2="389.82" y2="813.34" stroke="#999" stroke-width="1.2"/>
<circle cx="341.11" cy="881.91" r="2.8" fill="#a8a8a8" stroke="#555" stroke-width="0.8"/>
<circle cx="345.32" cy="869.55" r="2.8" fill="#a8a8a8" stroke="#555" stroke-width="0.8"/>
<circle cx="349.53" cy="860.18" r="2.8" fill="#a8a8a8" stroke="#555" stroke-width="0.8"/>
<circle cx="353.74" cy="849.69" r="2.8" fill="#a8a8a8" stroke="#555" stroke-width="0.8"/>
<circle cx="357.95" cy="841.82" r="2.8" fill="#a8a8a8" stroke="#555" stroke-width="0.8"/>
<circle cx="362.16" cy="835.83" r="2.8" fill="#a8a8a8" stroke="#555" stroke-width="0.8"/>
<circle cx="366.37" cy="829.83" r="2.8" fill="#a8a8a8" stroke="#555" stroke-width="0.8"/>
<circle cx="370.58" cy="823.83" r="2.8" fill="#a8a8a8" stroke="#555" stroke-width="0.8"/>
<circle cx="374.79" cy="817.84" r="2.8" fill="#a8a8a8" stroke="#555" stroke-width="0.8"/>
<circle cx="379" cy="815.22" r="2.8" fill="#a8a8a8" stroke="#555" stroke-width="0.8"/>
<circle cx="383.21" cy="810.72" r="2.8" fill="#a8a8a8" stroke="#555" stroke-width="0.8"/>
<circle cx="387.42" cy="807.72" r="2.8" fill="#a8a8a8" stroke="#555" stroke-width="0.8"/>
<line x1="341.11" y1="879.66" x2="341.11" y2="886.41" stroke="#000" stroke-width="1.4"/>
<line x1="338.71" y1="879.66" x2="343.51" y2="879.66" stroke="#000" stroke-width="1.4"/>
<line x1="338.71" y1="886.41" x2="343.51" y2="886.41" stroke="#000" stroke-width="1.4"/>
<line x1="345.32" y1="868.42" x2="345.32" y2="875.92" stroke="#000" stroke-width="1.4"/>
<line x1="342.92" y1="868.42" x2="347.72" y2="868.42" stroke="#000" stroke-width="1.4"/>
<line x1="342.92" y1="875.92" x2="347.72" y2="875.92" stroke="#000" stroke-width="1.4"/>
<line x1="349.53" y1="857.93" x2="349.53" y2="866.18" stroke="#000" stroke-width="1.4"/>
<line x1="347.13" y1="857.93" x2="351.93" y2="857.93" stroke="#000" stroke-width="1.4"/>
<line x1="347.13" y1="866.18" x2="351.93" y2="866.18" stroke="#000" stroke-width="1.4"/>
<line x1="353.74" y1="851.19" x2="353.74" y2="858.68" stroke="#000" stroke-width="1.4"/>
<line x1="351.34" y1="851.19" x2="356.14" y2="851.19" stroke="#000" stroke-width="1.4"/>
<line x1="351.34" y1="858.68" x2="356.14" y2="858.68" stroke="#000" stroke-width="1.4"/>
<line x1="357.95" y1="846.32" x2="357.95" y2="853.06" stroke="#000" stroke-width="1.4"/>
<line x1="355.55" y1="846.32" x2="360.35" y2="846.32" stroke="#000" stroke-width="1.4"/>
<line x1="355.55" y1="853.06" x2="360.35" y2="853.06" stroke="#000" stroke-width="1.4"/>
<line x1="362.16" y1="842.57" x2="362.16" y2="850.06" stroke="#000" stroke-width="1.4"/>
<line x1="359.76" y1="842.57" x2="364.56" y2="842.57" stroke="#000" stroke-width="1.4"/>
<line x1="359.76" y1="850.06" x2="364.56" y2="850.06" stroke="#000" stroke-width="1.4"/>
<line x1="366.37" y1="836.95" x2="366.37" y2="843.69" stroke="#000" stroke-width="1.4"/>
<line x1="363.97" y1="836.95" x2="368.77" y2="836.95" stroke="#000" stroke-width="1.4"/>
<line x1="363.97" y1="843.69" x2="368.77" y2="843.69" stroke="#000" stroke-width="1.4"/>
<line x1="370.58" y1="832.83" x2="370.58" y2="839.57" stroke="#000" stroke-width="1.4"/>
<line x1="368.18" y1="832.83" x2="372.98" y2="832.83" stroke="#000" stroke-width="1.4"/>
<line x1="368.18" y1="839.57" x2="372.98" y2="839.57" stroke="#000" stroke-width="1.4"/>
<line x1="374.79" y1="828.71" x2="374.79" y2="835.45" stroke="#000" stroke-width="1.4"/>
<line x1="372.39" y1="828.71" x2="377.19" y2="828.71" stroke="#000" stroke-width="1.4"/>
<line x1="372.39" y1="835.45" x2="377.19" y2="835.45" stroke="#000" stroke-width="1.4"/>
<line x1="379" y1="825.33" x2="379" y2="831.33" stroke="#000" stroke-width="1.4"/>
<line x1="376.6" y1="825.33" x2="381.4" y2="825.33" stroke="#000" stroke-width="1.4"/>
<line x1="376.6" y1="831.33" x2="381.4" y2="831.33" stroke="#000" stroke-width="1.4"/>
<line x1="383.21" y1="821.96" x2="383.21" y2="827.21" stroke="#000" stroke-width="1.4"/>
<line x1="380.81" y1="821.96" x2="385.61" y2="821.96" stroke="#000" stroke-width="1.4"/>
<line x1="380.81" y1="827.21" x2="385.61" y2="827.21" stroke="#000" stroke-width="1.4"/>
<line x1="387.42" y1="820.46" x2="387.42" y2="824.96" stroke="#000" stroke-width="1.4"/>
<line x1="385.02" y1="820.46" x2="389.82" y2="820.46" stroke="#000" stroke-width="1.4"/>
<line x1="385.02" y1="824.96" x2="389.82" y2="824.96" stroke="#000" stroke-width="1.4"/>
<circle cx="341.11" cy="883.04" r="2.8" fill="#000" stroke="none" stroke-width="0.8"/>
<circle cx="345.32" cy="872.17" r="2.8" fill="#000" stroke="none" stroke-width="0.8"/>
<circle cx="349.53" cy="862.05" r="2.8" fill="#000" stroke="none" stroke-width="0.8"/>
<circle cx="353.74" cy="854.93" r="2.8" fill="#000" stroke="none" stroke-width="0.8"/>
<circle cx="357.95" cy="849.69" r="2.8" fill="#000" stroke="none" stroke-width="0.8"/>
<circle cx="362.16" cy="846.32" r="2.8" fill="#000" stroke="none" stroke-width="0.8"/>
<circle cx="366.37" cy="840.32" r="2.8" fill="#000" stroke="none" stroke-width="0.8"/>
<circle cx="370.58" cy="836.2" r="2.8" fill="#000" stroke="none" stroke-width="0.8"/>
<circle cx="374.79" cy="832.08" r="2.8" fill="#000" stroke="none" stroke-width="0.8"/>
<circle cx="379" cy="828.33" r="2.8" fill="#000" stroke="none" stroke-width="0.8"/>
<circle cx="383.21" cy="824.58" r="2.8" fill="#000" stroke="none" stroke-width="0.8"/>
<circle cx="387.42" cy="822.71" r="2.8" fill="#000" stroke="none" stroke-width="0.8"/>
<line x1="405" y1="800.3" x2="405" y2="822.4" stroke="#1a1a1a" stroke-width="1.9"/>
<path d="M413.4,810.55 L413.4,816.05 M411.02,811.92 L415.78,814.67 M411.02,814.67 L415.78,811.92" stroke="#000" stroke-width="1.35" stroke-linecap="round" fill="none"/>
<circle cx="413.4" cy="813.3" r="1.24" fill="#000" stroke="none" stroke-width="0.8"/>
<circle cx="363.1" cy="766.9" r="2.8" fill="#000" stroke="none" stroke-width="0.8"/>
<text x="379.5" y="771.5" font-size="13.6" text-anchor="start" fill="#000" font-style="italic">control</text>
<circle cx="363.1" cy="784.8" r="2.8" fill="#a8a8a8" stroke="#555" stroke-width="0.8"/>
<text x="380.3" y="789.4" font-size="13.6" text-anchor="start" fill="#000">+ <tspan font-style="italic">CGP</tspan></text>
<text x="341.1" y="914.3" font-size="11.8" text-anchor="end" fill="#000" transform="rotate(-45 341.1 914.3)">0</text>
<text x="362.15" y="914.3" font-size="11.8" text-anchor="end" fill="#000" transform="rotate(-45 362.15 914.3)">100</text>
<text x="383.2" y="914.3" font-size="11.8" text-anchor="end" fill="#000" transform="rotate(-45 383.2 914.3)">200</text>
<line x1="469.2" y1="785.1" x2="469.2" y2="897.7" stroke="#000" stroke-width="1.8"/>
<line x1="463.2" y1="784.99" x2="469.2" y2="784.99" stroke="#000" stroke-width="1.8"/>
<text x="0" y="0" font-size="11.9" text-anchor="end" fill="#000" transform="translate(462.3 789.23) scale(1 1.075)">30</text>
<line x1="463.2" y1="822.26" x2="469.2" y2="822.26" stroke="#000" stroke-width="1.8"/>
<text x="0" y="0" font-size="11.9" text-anchor="end" fill="#000" transform="translate(462.3 826.5) scale(1 1.075)">20</text>
<line x1="463.2" y1="859.53" x2="469.2" y2="859.53" stroke="#000" stroke-width="1.8"/>
<text x="0" y="0" font-size="11.9" text-anchor="end" fill="#000" transform="translate(462.3 863.77) scale(1 1.075)">10</text>
<line x1="463.2" y1="896.8" x2="469.2" y2="896.8" stroke="#000" stroke-width="1.8"/>
<text x="0" y="0" font-size="11.9" text-anchor="end" fill="#000" transform="translate(462.3 901.04) scale(1 1.075)">0</text>
<line x1="468.3" y1="896.8" x2="525" y2="896.8" stroke="#000" stroke-width="1.8"/>
<line x1="469.2" y1="896.8" x2="469.2" y2="902.3" stroke="#000" stroke-width="1.8"/>
<line x1="489.68" y1="896.8" x2="489.68" y2="902.3" stroke="#000" stroke-width="1.8"/>
<line x1="510.16" y1="896.8" x2="510.16" y2="902.3" stroke="#000" stroke-width="1.8"/>
<text x="497.6" y="945.2" font-size="13.3" text-anchor="middle" fill="#000">pA</text>
<text x="440.5" y="840.8" font-size="14" text-anchor="middle" fill="#000" transform="rotate(-90 440.5 840.8)" textLength="79.4" lengthAdjust="spacingAndGlyphs">AP freq. (Hz)</text>
<line x1="473.3" y1="871.46" x2="473.3" y2="878.91" stroke="#000" stroke-width="1.5"/>
<line x1="470.5" y1="871.46" x2="476.1" y2="871.46" stroke="#000" stroke-width="1.5"/>
<line x1="470.5" y1="878.91" x2="476.1" y2="878.91" stroke="#000" stroke-width="1.5"/>
<line x1="477.39" y1="863.07" x2="477.39" y2="870.9" stroke="#000" stroke-width="1.5"/>
<line x1="474.59" y1="863.07" x2="480.19" y2="863.07" stroke="#000" stroke-width="1.5"/>
<line x1="474.59" y1="870.9" x2="480.19" y2="870.9" stroke="#000" stroke-width="1.5"/>
<line x1="481.49" y1="856.18" x2="481.49" y2="864.38" stroke="#000" stroke-width="1.5"/>
<line x1="478.69" y1="856.18" x2="484.29" y2="856.18" stroke="#000" stroke-width="1.5"/>
<line x1="478.69" y1="864.38" x2="484.29" y2="864.38" stroke="#000" stroke-width="1.5"/>
<line x1="485.58" y1="850.77" x2="485.58" y2="859.34" stroke="#000" stroke-width="1.5"/>
<line x1="482.78" y1="850.77" x2="488.38" y2="850.77" stroke="#000" stroke-width="1.5"/>
<line x1="482.78" y1="859.34" x2="488.38" y2="859.34" stroke="#000" stroke-width="1.5"/>
<line x1="489.68" y1="846.11" x2="489.68" y2="855.06" stroke="#000" stroke-width="1.5"/>
<line x1="486.88" y1="846.11" x2="492.48" y2="846.11" stroke="#000" stroke-width="1.5"/>
<line x1="486.88" y1="855.06" x2="492.48" y2="855.06" stroke="#000" stroke-width="1.5"/>
<line x1="493.78" y1="842.2" x2="493.78" y2="851.52" stroke="#000" stroke-width="1.5"/>
<line x1="490.98" y1="842.2" x2="496.58" y2="842.2" stroke="#000" stroke-width="1.5"/>
<line x1="490.98" y1="851.52" x2="496.58" y2="851.52" stroke="#000" stroke-width="1.5"/>
<line x1="497.87" y1="839.03" x2="497.87" y2="848.72" stroke="#000" stroke-width="1.5"/>
<line x1="495.07" y1="839.03" x2="500.67" y2="839.03" stroke="#000" stroke-width="1.5"/>
<line x1="495.07" y1="848.72" x2="500.67" y2="848.72" stroke="#000" stroke-width="1.5"/>
<line x1="501.97" y1="836.24" x2="501.97" y2="846.3" stroke="#000" stroke-width="1.5"/>
<line x1="499.17" y1="836.24" x2="504.77" y2="836.24" stroke="#000" stroke-width="1.5"/>
<line x1="499.17" y1="846.3" x2="504.77" y2="846.3" stroke="#000" stroke-width="1.5"/>
<line x1="506.06" y1="833.44" x2="506.06" y2="843.88" stroke="#000" stroke-width="1.5"/>
<line x1="503.26" y1="833.44" x2="508.86" y2="833.44" stroke="#000" stroke-width="1.5"/>
<line x1="503.26" y1="843.88" x2="508.86" y2="843.88" stroke="#000" stroke-width="1.5"/>
<line x1="510.16" y1="830.65" x2="510.16" y2="841.45" stroke="#000" stroke-width="1.5"/>
<line x1="507.36" y1="830.65" x2="512.96" y2="830.65" stroke="#000" stroke-width="1.5"/>
<line x1="507.36" y1="841.45" x2="512.96" y2="841.45" stroke="#000" stroke-width="1.5"/>
<line x1="514.26" y1="828.22" x2="514.26" y2="839.4" stroke="#000" stroke-width="1.5"/>
<line x1="511.46" y1="828.22" x2="517.06" y2="828.22" stroke="#000" stroke-width="1.5"/>
<line x1="511.46" y1="839.4" x2="517.06" y2="839.4" stroke="#000" stroke-width="1.5"/>
<line x1="518.35" y1="826.17" x2="518.35" y2="837.73" stroke="#000" stroke-width="1.5"/>
<line x1="515.55" y1="826.17" x2="521.15" y2="826.17" stroke="#000" stroke-width="1.5"/>
<line x1="515.55" y1="837.73" x2="521.15" y2="837.73" stroke="#000" stroke-width="1.5"/>
<line x1="522.45" y1="824.12" x2="522.45" y2="836.05" stroke="#000" stroke-width="1.5"/>
<line x1="519.65" y1="824.12" x2="525.25" y2="824.12" stroke="#000" stroke-width="1.5"/>
<line x1="519.65" y1="836.05" x2="525.25" y2="836.05" stroke="#000" stroke-width="1.5"/>
<line x1="473.3" y1="872.95" x2="473.3" y2="880.4" stroke="#000" stroke-width="1.5"/>
<line x1="470.5" y1="872.95" x2="476.1" y2="872.95" stroke="#000" stroke-width="1.5"/>
<line x1="470.5" y1="880.4" x2="476.1" y2="880.4" stroke="#000" stroke-width="1.5"/>
<line x1="477.39" y1="864.93" x2="477.39" y2="872.76" stroke="#000" stroke-width="1.5"/>
<line x1="474.59" y1="864.93" x2="480.19" y2="864.93" stroke="#000" stroke-width="1.5"/>
<line x1="474.59" y1="872.76" x2="480.19" y2="872.76" stroke="#000" stroke-width="1.5"/>
<line x1="481.49" y1="858.41" x2="481.49" y2="866.61" stroke="#000" stroke-width="1.5"/>
<line x1="478.69" y1="858.41" x2="484.29" y2="858.41" stroke="#000" stroke-width="1.5"/>
<line x1="478.69" y1="866.61" x2="484.29" y2="866.61" stroke="#000" stroke-width="1.5"/>
<line x1="485.58" y1="853.38" x2="485.58" y2="861.95" stroke="#000" stroke-width="1.5"/>
<line x1="482.78" y1="853.38" x2="488.38" y2="853.38" stroke="#000" stroke-width="1.5"/>
<line x1="482.78" y1="861.95" x2="488.38" y2="861.95" stroke="#000" stroke-width="1.5"/>
<line x1="489.68" y1="849.09" x2="489.68" y2="858.04" stroke="#000" stroke-width="1.5"/>
<line x1="486.88" y1="849.09" x2="492.48" y2="849.09" stroke="#000" stroke-width="1.5"/>
<line x1="486.88" y1="858.04" x2="492.48" y2="858.04" stroke="#000" stroke-width="1.5"/>
<line x1="493.78" y1="845.55" x2="493.78" y2="854.87" stroke="#000" stroke-width="1.5"/>
<line x1="490.98" y1="845.55" x2="496.58" y2="845.55" stroke="#000" stroke-width="1.5"/>
<line x1="490.98" y1="854.87" x2="496.58" y2="854.87" stroke="#000" stroke-width="1.5"/>
<line x1="497.87" y1="842.39" x2="497.87" y2="852.08" stroke="#000" stroke-width="1.5"/>
<line x1="495.07" y1="842.39" x2="500.67" y2="842.39" stroke="#000" stroke-width="1.5"/>
<line x1="495.07" y1="852.08" x2="500.67" y2="852.08" stroke="#000" stroke-width="1.5"/>
<line x1="501.97" y1="839.59" x2="501.97" y2="849.65" stroke="#000" stroke-width="1.5"/>
<line x1="499.17" y1="839.59" x2="504.77" y2="839.59" stroke="#000" stroke-width="1.5"/>
<line x1="499.17" y1="849.65" x2="504.77" y2="849.65" stroke="#000" stroke-width="1.5"/>
<line x1="506.06" y1="836.8" x2="506.06" y2="847.23" stroke="#000" stroke-width="1.5"/>
<line x1="503.26" y1="836.8" x2="508.86" y2="836.8" stroke="#000" stroke-width="1.5"/>
<line x1="503.26" y1="847.23" x2="508.86" y2="847.23" stroke="#000" stroke-width="1.5"/>
<line x1="510.16" y1="834.37" x2="510.16" y2="845.18" stroke="#000" stroke-width="1.5"/>
<line x1="507.36" y1="834.37" x2="512.96" y2="834.37" stroke="#000" stroke-width="1.5"/>
<line x1="507.36" y1="845.18" x2="512.96" y2="845.18" stroke="#000" stroke-width="1.5"/>
<line x1="514.26" y1="832.32" x2="514.26" y2="843.5" stroke="#000" stroke-width="1.5"/>
<line x1="511.46" y1="832.32" x2="517.06" y2="832.32" stroke="#000" stroke-width="1.5"/>
<line x1="511.46" y1="843.5" x2="517.06" y2="843.5" stroke="#000" stroke-width="1.5"/>
<line x1="518.35" y1="830.65" x2="518.35" y2="842.2" stroke="#000" stroke-width="1.5"/>
<line x1="515.55" y1="830.65" x2="521.15" y2="830.65" stroke="#000" stroke-width="1.5"/>
<line x1="515.55" y1="842.2" x2="521.15" y2="842.2" stroke="#000" stroke-width="1.5"/>
<line x1="522.45" y1="829.34" x2="522.45" y2="841.27" stroke="#000" stroke-width="1.5"/>
<line x1="519.65" y1="829.34" x2="525.25" y2="829.34" stroke="#000" stroke-width="1.5"/>
<line x1="519.65" y1="841.27" x2="525.25" y2="841.27" stroke="#000" stroke-width="1.5"/>
<path d="M473.3,872.88 L475.6,876.98 L471,876.98 Z" fill="#000" stroke="#000" stroke-width="1.1"/>
<path d="M477.39,864.68 L479.69,868.78 L475.09,868.78 Z" fill="#000" stroke="#000" stroke-width="1.1"/>
<path d="M481.49,857.98 L483.79,862.08 L479.19,862.08 Z" fill="#000" stroke="#000" stroke-width="1.1"/>
<path d="M485.58,852.76 L487.88,856.86 L483.28,856.86 Z" fill="#000" stroke="#000" stroke-width="1.1"/>
<path d="M489.68,848.29 L491.98,852.39 L487.38,852.39 Z" fill="#000" stroke="#000" stroke-width="1.1"/>
<path d="M493.78,844.56 L496.08,848.66 L491.48,848.66 Z" fill="#000" stroke="#000" stroke-width="1.1"/>
<path d="M497.87,841.58 L500.17,845.68 L495.57,845.68 Z" fill="#000" stroke="#000" stroke-width="1.1"/>
<path d="M501.97,838.97 L504.27,843.07 L499.67,843.07 Z" fill="#000" stroke="#000" stroke-width="1.1"/>
<path d="M506.06,836.36 L508.36,840.46 L503.76,840.46 Z" fill="#000" stroke="#000" stroke-width="1.1"/>
<path d="M510.16,833.75 L512.46,837.85 L507.86,837.85 Z" fill="#000" stroke="#000" stroke-width="1.1"/>
<path d="M514.26,831.51 L516.56,835.61 L511.96,835.61 Z" fill="#000" stroke="#000" stroke-width="1.1"/>
<path d="M518.35,829.65 L520.65,833.75 L516.05,833.75 Z" fill="#000" stroke="#000" stroke-width="1.1"/>
<path d="M522.45,827.79 L524.75,831.89 L520.15,831.89 Z" fill="#000" stroke="#000" stroke-width="1.1"/>
<path d="M473.3,874.37 L475.6,878.47 L471,878.47 Z" fill="#fff" stroke="#000" stroke-width="1.1"/>
<path d="M477.39,866.55 L479.69,870.65 L475.09,870.65 Z" fill="#fff" stroke="#000" stroke-width="1.1"/>
<path d="M481.49,860.21 L483.79,864.31 L479.19,864.31 Z" fill="#fff" stroke="#000" stroke-width="1.1"/>
<path d="M485.58,855.37 L487.88,859.47 L483.28,859.47 Z" fill="#fff" stroke="#000" stroke-width="1.1"/>
<path d="M489.68,851.27 L491.98,855.37 L487.38,855.37 Z" fill="#fff" stroke="#000" stroke-width="1.1"/>
<path d="M493.78,847.91 L496.08,852.01 L491.48,852.01 Z" fill="#fff" stroke="#000" stroke-width="1.1"/>
<path d="M497.87,844.93 L500.17,849.03 L495.57,849.03 Z" fill="#fff" stroke="#000" stroke-width="1.1"/>
<path d="M501.97,842.32 L504.27,846.42 L499.67,846.42 Z" fill="#fff" stroke="#000" stroke-width="1.1"/>
<path d="M506.06,839.71 L508.36,843.81 L503.76,843.81 Z" fill="#fff" stroke="#000" stroke-width="1.1"/>
<path d="M510.16,837.48 L512.46,841.58 L507.86,841.58 Z" fill="#fff" stroke="#000" stroke-width="1.1"/>
<path d="M514.26,835.61 L516.56,839.71 L511.96,839.71 Z" fill="#fff" stroke="#000" stroke-width="1.1"/>
<path d="M518.35,834.12 L520.65,838.22 L516.05,838.22 Z" fill="#fff" stroke="#000" stroke-width="1.1"/>
<path d="M522.45,833 L524.75,837.1 L520.15,837.1 Z" fill="#fff" stroke="#000" stroke-width="1.1"/>
<path d="M481.5,761.2 L483.8,765.3 L479.2,765.3 Z" fill="#fff" stroke="#000" stroke-width="1.4"/>
<path d="M481.5,778.4 L483.8,782.5 L479.2,782.5 Z" fill="#000" stroke="#000" stroke-width="1.4"/>
<text x="497.8" y="768.6" font-size="13.6" text-anchor="start" fill="#000" font-style="italic" textLength="51.8" lengthAdjust="spacingAndGlyphs">GDP-&#946;-S</text>
<text x="497.8" y="785.8" font-size="13.6" text-anchor="start" fill="#000">+ <tspan font-style="italic">CGP</tspan></text>
<text x="473.4" y="913.6" font-size="11.8" text-anchor="end" fill="#000" transform="rotate(-45 473.4 913.6)">0</text>
<text x="493.88" y="913.6" font-size="11.8" text-anchor="end" fill="#000" transform="rotate(-45 493.88 913.6)">100</text>
<text x="514.36" y="913.6" font-size="11.8" text-anchor="end" fill="#000" transform="rotate(-45 514.36 913.6)">200</text>
<line x1="589.8" y1="782.4" x2="589.8" y2="895" stroke="#000" stroke-width="1.8"/>
<line x1="583.8" y1="782.35" x2="589.8" y2="782.35" stroke="#000" stroke-width="1.8"/>
<text x="0" y="0" font-size="11.9" text-anchor="end" fill="#000" transform="translate(582.7 786.59) scale(1 1.075)">30</text>
<line x1="583.8" y1="819.6" x2="589.8" y2="819.6" stroke="#000" stroke-width="1.8"/>
<text x="0" y="0" font-size="11.9" text-anchor="end" fill="#000" transform="translate(582.7 823.84) scale(1 1.075)">20</text>
<line x1="583.8" y1="856.85" x2="589.8" y2="856.85" stroke="#000" stroke-width="1.8"/>
<text x="0" y="0" font-size="11.9" text-anchor="end" fill="#000" transform="translate(582.7 861.09) scale(1 1.075)">10</text>
<line x1="583.8" y1="894.1" x2="589.8" y2="894.1" stroke="#000" stroke-width="1.8"/>
<text x="0" y="0" font-size="11.9" text-anchor="end" fill="#000" transform="translate(582.7 898.34) scale(1 1.075)">0</text>
<line x1="588.9" y1="894.1" x2="646.7" y2="894.1" stroke="#000" stroke-width="1.8"/>
<line x1="589.8" y1="894.1" x2="589.8" y2="899.6" stroke="#000" stroke-width="1.8"/>
<line x1="610.45" y1="894.1" x2="610.45" y2="899.6" stroke="#000" stroke-width="1.8"/>
<line x1="631.1" y1="894.1" x2="631.1" y2="899.6" stroke="#000" stroke-width="1.8"/>
<text x="618" y="943.3" font-size="13.3" text-anchor="middle" fill="#000">pA</text>
<text x="561.4" y="838" font-size="14" text-anchor="middle" fill="#000" transform="rotate(-90 561.4 838)" textLength="79.4" lengthAdjust="spacingAndGlyphs">AP freq. (Hz)</text>
<line x1="593.93" y1="865.79" x2="593.93" y2="871.75" stroke="#a00000" stroke-width="1.5"/>
<line x1="591.13" y1="865.79" x2="596.73" y2="865.79" stroke="#a00000" stroke-width="1.5"/>
<line x1="591.13" y1="871.75" x2="596.73" y2="871.75" stroke="#a00000" stroke-width="1.5"/>
<line x1="598.06" y1="851.63" x2="598.06" y2="859.09" stroke="#a00000" stroke-width="1.5"/>
<line x1="595.26" y1="851.63" x2="600.86" y2="851.63" stroke="#a00000" stroke-width="1.5"/>
<line x1="595.26" y1="859.09" x2="600.86" y2="859.09" stroke="#a00000" stroke-width="1.5"/>
<line x1="602.19" y1="841.21" x2="602.19" y2="849.4" stroke="#a00000" stroke-width="1.5"/>
<line x1="599.39" y1="841.21" x2="604.99" y2="841.21" stroke="#a00000" stroke-width="1.5"/>
<line x1="599.39" y1="849.4" x2="604.99" y2="849.4" stroke="#a00000" stroke-width="1.5"/>
<line x1="606.32" y1="847.16" x2="606.32" y2="852.38" stroke="#a00000" stroke-width="1.5"/>
<line x1="603.52" y1="847.16" x2="609.12" y2="847.16" stroke="#a00000" stroke-width="1.5"/>
<line x1="603.52" y1="852.38" x2="609.12" y2="852.38" stroke="#a00000" stroke-width="1.5"/>
<line x1="606.32" y1="831.89" x2="606.32" y2="840.83" stroke="#a00000" stroke-width="1.5"/>
<line x1="603.52" y1="831.89" x2="609.12" y2="831.89" stroke="#a00000" stroke-width="1.5"/>
<line x1="603.52" y1="840.83" x2="609.12" y2="840.83" stroke="#a00000" stroke-width="1.5"/>
<line x1="610.45" y1="838.97" x2="610.45" y2="845.68" stroke="#a00000" stroke-width="1.5"/>
<line x1="607.65" y1="838.97" x2="613.25" y2="838.97" stroke="#a00000" stroke-width="1.5"/>
<line x1="607.65" y1="845.68" x2="613.25" y2="845.68" stroke="#a00000" stroke-width="1.5"/>
<line x1="610.45" y1="825.19" x2="610.45" y2="834.87" stroke="#a00000" stroke-width="1.5"/>
<line x1="607.65" y1="825.19" x2="613.25" y2="825.19" stroke="#a00000" stroke-width="1.5"/>
<line x1="607.65" y1="834.87" x2="613.25" y2="834.87" stroke="#a00000" stroke-width="1.5"/>
<line x1="614.58" y1="830.03" x2="614.58" y2="837.48" stroke="#a00000" stroke-width="1.5"/>
<line x1="611.78" y1="830.03" x2="617.38" y2="830.03" stroke="#a00000" stroke-width="1.5"/>
<line x1="611.78" y1="837.48" x2="617.38" y2="837.48" stroke="#a00000" stroke-width="1.5"/>
<line x1="614.58" y1="819.6" x2="614.58" y2="830.03" stroke="#a00000" stroke-width="1.5"/>
<line x1="611.78" y1="819.6" x2="617.38" y2="819.6" stroke="#a00000" stroke-width="1.5"/>
<line x1="611.78" y1="830.03" x2="617.38" y2="830.03" stroke="#a00000" stroke-width="1.5"/>
<line x1="618.71" y1="823.7" x2="618.71" y2="831.89" stroke="#a00000" stroke-width="1.5"/>
<line x1="615.91" y1="823.7" x2="621.51" y2="823.7" stroke="#a00000" stroke-width="1.5"/>
<line x1="615.91" y1="831.89" x2="621.51" y2="831.89" stroke="#a00000" stroke-width="1.5"/>
<line x1="618.71" y1="812.15" x2="618.71" y2="823.33" stroke="#a00000" stroke-width="1.5"/>
<line x1="615.91" y1="812.15" x2="621.51" y2="812.15" stroke="#a00000" stroke-width="1.5"/>
<line x1="615.91" y1="823.33" x2="621.51" y2="823.33" stroke="#a00000" stroke-width="1.5"/>
<line x1="622.84" y1="816.25" x2="622.84" y2="825.93" stroke="#a00000" stroke-width="1.5"/>
<line x1="620.04" y1="816.25" x2="625.64" y2="816.25" stroke="#a00000" stroke-width="1.5"/>
<line x1="620.04" y1="825.93" x2="625.64" y2="825.93" stroke="#a00000" stroke-width="1.5"/>
<line x1="622.84" y1="807.68" x2="622.84" y2="819.6" stroke="#a00000" stroke-width="1.5"/>
<line x1="620.04" y1="807.68" x2="625.64" y2="807.68" stroke="#a00000" stroke-width="1.5"/>
<line x1="620.04" y1="819.6" x2="625.64" y2="819.6" stroke="#a00000" stroke-width="1.5"/>
<line x1="626.97" y1="809.17" x2="626.97" y2="820.35" stroke="#a00000" stroke-width="1.5"/>
<line x1="624.17" y1="809.17" x2="629.77" y2="809.17" stroke="#a00000" stroke-width="1.5"/>
<line x1="624.17" y1="820.35" x2="629.77" y2="820.35" stroke="#a00000" stroke-width="1.5"/>
<line x1="626.97" y1="802.84" x2="626.97" y2="816.25" stroke="#a00000" stroke-width="1.5"/>
<line x1="624.17" y1="802.84" x2="629.77" y2="802.84" stroke="#a00000" stroke-width="1.5"/>
<line x1="624.17" y1="816.25" x2="629.77" y2="816.25" stroke="#a00000" stroke-width="1.5"/>
<line x1="631.1" y1="803.21" x2="631.1" y2="815.88" stroke="#a00000" stroke-width="1.5"/>
<line x1="628.3" y1="803.21" x2="633.9" y2="803.21" stroke="#a00000" stroke-width="1.5"/>
<line x1="628.3" y1="815.88" x2="633.9" y2="815.88" stroke="#a00000" stroke-width="1.5"/>
<line x1="631.1" y1="798" x2="631.1" y2="812.89" stroke="#a00000" stroke-width="1.5"/>
<line x1="628.3" y1="798" x2="633.9" y2="798" stroke="#a00000" stroke-width="1.5"/>
<line x1="628.3" y1="812.89" x2="633.9" y2="812.89" stroke="#a00000" stroke-width="1.5"/>
<line x1="635.23" y1="797.62" x2="635.23" y2="812.52" stroke="#a00000" stroke-width="1.5"/>
<line x1="632.43" y1="797.62" x2="638.03" y2="797.62" stroke="#a00000" stroke-width="1.5"/>
<line x1="632.43" y1="812.52" x2="638.03" y2="812.52" stroke="#a00000" stroke-width="1.5"/>
<line x1="635.23" y1="788.31" x2="635.23" y2="810.66" stroke="#a00000" stroke-width="1.5"/>
<line x1="632.43" y1="788.31" x2="638.03" y2="788.31" stroke="#a00000" stroke-width="1.5"/>
<line x1="632.43" y1="810.66" x2="638.03" y2="810.66" stroke="#a00000" stroke-width="1.5"/>
<line x1="639.36" y1="790.92" x2="639.36" y2="809.54" stroke="#a00000" stroke-width="1.5"/>
<line x1="636.56" y1="790.92" x2="642.16" y2="790.92" stroke="#a00000" stroke-width="1.5"/>
<line x1="636.56" y1="809.54" x2="642.16" y2="809.54" stroke="#a00000" stroke-width="1.5"/>
<line x1="639.36" y1="787.94" x2="639.36" y2="811.03" stroke="#a00000" stroke-width="1.5"/>
<line x1="636.56" y1="787.94" x2="642.16" y2="787.94" stroke="#a00000" stroke-width="1.5"/>
<line x1="636.56" y1="811.03" x2="642.16" y2="811.03" stroke="#a00000" stroke-width="1.5"/>
<path d="M593.93,876.57 L596.93,879.57 L593.93,882.57 L590.93,879.57 Z" fill="#a00000"/>
<path d="M598.06,865.02 L601.06,868.02 L598.06,871.02 L595.06,868.02 Z" fill="#a00000"/>
<path d="M602.19,855.34 L605.19,858.34 L602.19,861.34 L599.19,858.34 Z" fill="#a00000"/>
<path d="M606.32,846.77 L609.32,849.77 L606.32,852.77 L603.32,849.77 Z" fill="#a00000"/>
<path d="M610.45,839.32 L613.45,842.32 L610.45,845.32 L607.45,842.32 Z" fill="#a00000"/>
<path d="M614.58,830.75 L617.58,833.75 L614.58,836.75 L611.58,833.75 Z" fill="#a00000"/>
<path d="M618.71,824.8 L621.71,827.8 L618.71,830.8 L615.71,827.8 Z" fill="#a00000"/>
<path d="M622.84,818.09 L625.84,821.09 L622.84,824.09 L619.84,821.09 Z" fill="#a00000"/>
<path d="M626.97,811.76 L629.97,814.76 L626.97,817.76 L623.97,814.76 Z" fill="#a00000"/>
<path d="M631.1,806.54 L634.1,809.54 L631.1,812.54 L628.1,809.54 Z" fill="#a00000"/>
<path d="M635.23,802.07 L638.23,805.07 L635.23,808.07 L632.23,805.07 Z" fill="#a00000"/>
<path d="M639.36,797.23 L642.36,800.23 L639.36,803.23 L636.36,800.23 Z" fill="#a00000"/>
<circle cx="593.93" cy="868.77" r="2.7" fill="#fff" stroke="#a00000" stroke-width="1.5"/>
<circle cx="598.06" cy="855.36" r="2.7" fill="#fff" stroke="#a00000" stroke-width="1.5"/>
<circle cx="602.19" cy="845.3" r="2.7" fill="#fff" stroke="#a00000" stroke-width="1.5"/>
<circle cx="606.32" cy="836.36" r="2.7" fill="#fff" stroke="#a00000" stroke-width="1.5"/>
<circle cx="610.45" cy="830.03" r="2.7" fill="#fff" stroke="#a00000" stroke-width="1.5"/>
<circle cx="614.58" cy="824.82" r="2.7" fill="#fff" stroke="#a00000" stroke-width="1.5"/>
<circle cx="618.71" cy="817.74" r="2.7" fill="#fff" stroke="#a00000" stroke-width="1.5"/>
<circle cx="622.84" cy="813.64" r="2.7" fill="#fff" stroke="#a00000" stroke-width="1.5"/>
<circle cx="626.97" cy="809.54" r="2.7" fill="#fff" stroke="#a00000" stroke-width="1.5"/>
<circle cx="631.1" cy="805.45" r="2.7" fill="#fff" stroke="#a00000" stroke-width="1.5"/>
<circle cx="635.23" cy="799.49" r="2.7" fill="#fff" stroke="#a00000" stroke-width="1.5"/>
<circle cx="639.36" cy="799.49" r="2.7" fill="#fff" stroke="#a00000" stroke-width="1.5"/>
<path d="M602.8,758.7 L606,761.9 L602.8,765.1 L599.6,761.9 Z" fill="#a00000"/>
<circle cx="602.6" cy="779.8" r="2.8" fill="#fff" stroke="#a00000" stroke-width="1.5"/>
<text x="619.3" y="766.4" font-size="13.6" text-anchor="start" fill="#000" font-style="italic">CRS</text>
<text x="619.9" y="784.7" font-size="13.6" text-anchor="start" fill="#000">+ <tspan font-style="italic">CGP</tspan></text>
<text x="594" y="911" font-size="11.8" text-anchor="end" fill="#000" transform="rotate(-45 594 911)">0</text>
<text x="614.65" y="911" font-size="11.8" text-anchor="end" fill="#000" transform="rotate(-45 614.65 911)">100</text>
<text x="635.3" y="911" font-size="11.8" text-anchor="end" fill="#000" transform="rotate(-45 635.3 911)">200</text>
</svg>
</body></html>
